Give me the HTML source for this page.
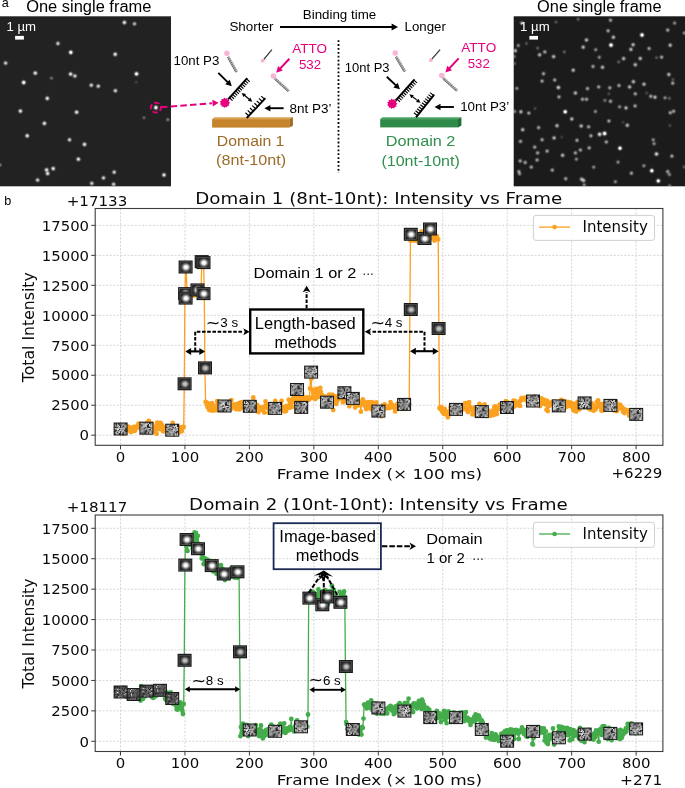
<!DOCTYPE html>
<html lang="en"><head><meta charset="utf-8"><title>Figure</title>
<style>html,body{margin:0;padding:0;background:#fff}svg{display:block}.dj{font-family:"DejaVu Sans","Liberation Sans",sans-serif;fill:#0a0a0a}.lb{font-family:"Liberation Sans",Arial,sans-serif;fill:#000}</style></head><body>
<svg width="685" height="788" viewBox="0 0 685 788">
<defs>
<radialGradient id="gd"><stop offset="0" stop-color="#fff" stop-opacity="1"/><stop offset="0.22" stop-color="#fff" stop-opacity="0.92"/><stop offset="0.48" stop-color="#fff" stop-opacity="0.45"/><stop offset="0.75" stop-color="#fff" stop-opacity="0.11"/><stop offset="1" stop-color="#fff" stop-opacity="0"/></radialGradient>
<radialGradient id="gs"><stop offset="0" stop-color="#fff" stop-opacity="1"/><stop offset="0.32" stop-color="#fff" stop-opacity="0.95"/><stop offset="0.65" stop-color="#bbb" stop-opacity="0.55"/><stop offset="1" stop-color="#888" stop-opacity="0"/></radialGradient>
<g id="n1"><rect x="-7.0" y="-6.5" width="14.0" height="13.0" fill="#1c1c1c"/><rect x="-5.90" y="-5.40" width="1.11" height="1.12" fill="#969696"/><rect x="-5.90" y="-4.32" width="1.11" height="1.12" fill="#eaeaea"/><rect x="-5.90" y="-3.24" width="1.11" height="1.12" fill="#b0b0b0"/><rect x="-5.90" y="-2.16" width="1.11" height="1.12" fill="#1a1a1a"/><rect x="-5.90" y="-1.08" width="1.11" height="1.12" fill="#f5f5f5"/><rect x="-5.90" y="0.00" width="1.11" height="1.12" fill="#7b7b7b"/><rect x="-5.90" y="1.08" width="1.11" height="1.12" fill="#515151"/><rect x="-5.90" y="2.16" width="1.11" height="1.12" fill="#1a1a1a"/><rect x="-5.90" y="3.24" width="1.11" height="1.12" fill="#b5b5b5"/><rect x="-5.90" y="4.32" width="1.11" height="1.12" fill="#323232"/><rect x="-4.83" y="-5.40" width="1.11" height="1.12" fill="#333333"/><rect x="-4.83" y="-4.32" width="1.11" height="1.12" fill="#262626"/><rect x="-4.83" y="-3.24" width="1.11" height="1.12" fill="#9f9f9f"/><rect x="-4.83" y="-2.16" width="1.11" height="1.12" fill="#4b4b4b"/><rect x="-4.83" y="-1.08" width="1.11" height="1.12" fill="#b6b6b6"/><rect x="-4.83" y="0.00" width="1.11" height="1.12" fill="#9c9c9c"/><rect x="-4.83" y="1.08" width="1.11" height="1.12" fill="#2c2c2c"/><rect x="-4.83" y="2.16" width="1.11" height="1.12" fill="#bfbfbf"/><rect x="-4.83" y="3.24" width="1.11" height="1.12" fill="#f8f8f8"/><rect x="-4.83" y="4.32" width="1.11" height="1.12" fill="#eeeeee"/><rect x="-3.75" y="-5.40" width="1.11" height="1.12" fill="#cbcbcb"/><rect x="-3.75" y="-4.32" width="1.11" height="1.12" fill="#b3b3b3"/><rect x="-3.75" y="-3.24" width="1.11" height="1.12" fill="#f6f6f6"/><rect x="-3.75" y="-2.16" width="1.11" height="1.12" fill="#393939"/><rect x="-3.75" y="-1.08" width="1.11" height="1.12" fill="#bebebe"/><rect x="-3.75" y="0.00" width="1.11" height="1.12" fill="#ebebeb"/><rect x="-3.75" y="1.08" width="1.11" height="1.12" fill="#c3c3c3"/><rect x="-3.75" y="2.16" width="1.11" height="1.12" fill="#acacac"/><rect x="-3.75" y="3.24" width="1.11" height="1.12" fill="#434343"/><rect x="-3.75" y="4.32" width="1.11" height="1.12" fill="#d8d8d8"/><rect x="-2.68" y="-5.40" width="1.11" height="1.12" fill="#373737"/><rect x="-2.68" y="-4.32" width="1.11" height="1.12" fill="#d8d8d8"/><rect x="-2.68" y="-3.24" width="1.11" height="1.12" fill="#b5b5b5"/><rect x="-2.68" y="-2.16" width="1.11" height="1.12" fill="#a0a0a0"/><rect x="-2.68" y="-1.08" width="1.11" height="1.12" fill="#d3d3d3"/><rect x="-2.68" y="0.00" width="1.11" height="1.12" fill="#ececec"/><rect x="-2.68" y="1.08" width="1.11" height="1.12" fill="#484848"/><rect x="-2.68" y="2.16" width="1.11" height="1.12" fill="#c6c6c6"/><rect x="-2.68" y="3.24" width="1.11" height="1.12" fill="#c1c1c1"/><rect x="-2.68" y="4.32" width="1.11" height="1.12" fill="#b4b4b4"/><rect x="-1.61" y="-5.40" width="1.11" height="1.12" fill="#4d4d4d"/><rect x="-1.61" y="-4.32" width="1.11" height="1.12" fill="#373737"/><rect x="-1.61" y="-3.24" width="1.11" height="1.12" fill="#e4e4e4"/><rect x="-1.61" y="-2.16" width="1.11" height="1.12" fill="#b5b5b5"/><rect x="-1.61" y="-1.08" width="1.11" height="1.12" fill="#b9b9b9"/><rect x="-1.61" y="0.00" width="1.11" height="1.12" fill="#232323"/><rect x="-1.61" y="1.08" width="1.11" height="1.12" fill="#b8b8b8"/><rect x="-1.61" y="2.16" width="1.11" height="1.12" fill="#c4c4c4"/><rect x="-1.61" y="3.24" width="1.11" height="1.12" fill="#f8f8f8"/><rect x="-1.61" y="4.32" width="1.11" height="1.12" fill="#1a1a1a"/><rect x="-0.54" y="-5.40" width="1.11" height="1.12" fill="#828282"/><rect x="-0.54" y="-4.32" width="1.11" height="1.12" fill="#3e3e3e"/><rect x="-0.54" y="-3.24" width="1.11" height="1.12" fill="#222222"/><rect x="-0.54" y="-2.16" width="1.11" height="1.12" fill="#292929"/><rect x="-0.54" y="-1.08" width="1.11" height="1.12" fill="#bfbfbf"/><rect x="-0.54" y="0.00" width="1.11" height="1.12" fill="#a7a7a7"/><rect x="-0.54" y="1.08" width="1.11" height="1.12" fill="#e7e7e7"/><rect x="-0.54" y="2.16" width="1.11" height="1.12" fill="#4e4e4e"/><rect x="-0.54" y="3.24" width="1.11" height="1.12" fill="#3d3d3d"/><rect x="-0.54" y="4.32" width="1.11" height="1.12" fill="#1a1a1a"/><rect x="0.54" y="-5.40" width="1.11" height="1.12" fill="#989898"/><rect x="0.54" y="-4.32" width="1.11" height="1.12" fill="#999999"/><rect x="0.54" y="-3.24" width="1.11" height="1.12" fill="#bdbdbd"/><rect x="0.54" y="-2.16" width="1.11" height="1.12" fill="#9f9f9f"/><rect x="0.54" y="-1.08" width="1.11" height="1.12" fill="#c4c4c4"/><rect x="0.54" y="0.00" width="1.11" height="1.12" fill="#9f9f9f"/><rect x="0.54" y="1.08" width="1.11" height="1.12" fill="#acacac"/><rect x="0.54" y="2.16" width="1.11" height="1.12" fill="#a7a7a7"/><rect x="0.54" y="3.24" width="1.11" height="1.12" fill="#fdfdfd"/><rect x="0.54" y="4.32" width="1.11" height="1.12" fill="#f9f9f9"/><rect x="1.61" y="-5.40" width="1.11" height="1.12" fill="#a6a6a6"/><rect x="1.61" y="-4.32" width="1.11" height="1.12" fill="#e1e1e1"/><rect x="1.61" y="-3.24" width="1.11" height="1.12" fill="#7f7f7f"/><rect x="1.61" y="-2.16" width="1.11" height="1.12" fill="#888888"/><rect x="1.61" y="-1.08" width="1.11" height="1.12" fill="#d4d4d4"/><rect x="1.61" y="0.00" width="1.11" height="1.12" fill="#9a9a9a"/><rect x="1.61" y="1.08" width="1.11" height="1.12" fill="#d6d6d6"/><rect x="1.61" y="2.16" width="1.11" height="1.12" fill="#e4e4e4"/><rect x="1.61" y="3.24" width="1.11" height="1.12" fill="#9e9e9e"/><rect x="1.61" y="4.32" width="1.11" height="1.12" fill="#1f1f1f"/><rect x="2.68" y="-5.40" width="1.11" height="1.12" fill="#eaeaea"/><rect x="2.68" y="-4.32" width="1.11" height="1.12" fill="#a8a8a8"/><rect x="2.68" y="-3.24" width="1.11" height="1.12" fill="#252525"/><rect x="2.68" y="-2.16" width="1.11" height="1.12" fill="#a8a8a8"/><rect x="2.68" y="-1.08" width="1.11" height="1.12" fill="#dfdfdf"/><rect x="2.68" y="0.00" width="1.11" height="1.12" fill="#bdbdbd"/><rect x="2.68" y="1.08" width="1.11" height="1.12" fill="#fafafa"/><rect x="2.68" y="2.16" width="1.11" height="1.12" fill="#bdbdbd"/><rect x="2.68" y="3.24" width="1.11" height="1.12" fill="#444444"/><rect x="2.68" y="4.32" width="1.11" height="1.12" fill="#4f4f4f"/><rect x="3.75" y="-5.40" width="1.11" height="1.12" fill="#9e9e9e"/><rect x="3.75" y="-4.32" width="1.11" height="1.12" fill="#b9b9b9"/><rect x="3.75" y="-3.24" width="1.11" height="1.12" fill="#e2e2e2"/><rect x="3.75" y="-2.16" width="1.11" height="1.12" fill="#cacaca"/><rect x="3.75" y="-1.08" width="1.11" height="1.12" fill="#d3d3d3"/><rect x="3.75" y="0.00" width="1.11" height="1.12" fill="#969696"/><rect x="3.75" y="1.08" width="1.11" height="1.12" fill="#1d1d1d"/><rect x="3.75" y="2.16" width="1.11" height="1.12" fill="#cacaca"/><rect x="3.75" y="3.24" width="1.11" height="1.12" fill="#efefef"/><rect x="3.75" y="4.32" width="1.11" height="1.12" fill="#ededed"/><rect x="4.83" y="-5.40" width="1.11" height="1.12" fill="#292929"/><rect x="4.83" y="-4.32" width="1.11" height="1.12" fill="#cccccc"/><rect x="4.83" y="-3.24" width="1.11" height="1.12" fill="#cfcfcf"/><rect x="4.83" y="-2.16" width="1.11" height="1.12" fill="#a4a4a4"/><rect x="4.83" y="-1.08" width="1.11" height="1.12" fill="#414141"/><rect x="4.83" y="0.00" width="1.11" height="1.12" fill="#4e4e4e"/><rect x="4.83" y="1.08" width="1.11" height="1.12" fill="#545454"/><rect x="4.83" y="2.16" width="1.11" height="1.12" fill="#232323"/><rect x="4.83" y="3.24" width="1.11" height="1.12" fill="#a1a1a1"/><rect x="4.83" y="4.32" width="1.11" height="1.12" fill="#929292"/></g>
<g id="n2"><rect x="-7.0" y="-6.5" width="14.0" height="13.0" fill="#1c1c1c"/><rect x="-5.90" y="-5.40" width="1.11" height="1.12" fill="#d3d3d3"/><rect x="-5.90" y="-4.32" width="1.11" height="1.12" fill="#4b4b4b"/><rect x="-5.90" y="-3.24" width="1.11" height="1.12" fill="#c0c0c0"/><rect x="-5.90" y="-2.16" width="1.11" height="1.12" fill="#a6a6a6"/><rect x="-5.90" y="-1.08" width="1.11" height="1.12" fill="#b9b9b9"/><rect x="-5.90" y="0.00" width="1.11" height="1.12" fill="#e6e6e6"/><rect x="-5.90" y="1.08" width="1.11" height="1.12" fill="#bfbfbf"/><rect x="-5.90" y="2.16" width="1.11" height="1.12" fill="#d2d2d2"/><rect x="-5.90" y="3.24" width="1.11" height="1.12" fill="#d8d8d8"/><rect x="-5.90" y="4.32" width="1.11" height="1.12" fill="#858585"/><rect x="-4.83" y="-5.40" width="1.11" height="1.12" fill="#fafafa"/><rect x="-4.83" y="-4.32" width="1.11" height="1.12" fill="#b5b5b5"/><rect x="-4.83" y="-3.24" width="1.11" height="1.12" fill="#2c2c2c"/><rect x="-4.83" y="-2.16" width="1.11" height="1.12" fill="#979797"/><rect x="-4.83" y="-1.08" width="1.11" height="1.12" fill="#dedede"/><rect x="-4.83" y="0.00" width="1.11" height="1.12" fill="#9b9b9b"/><rect x="-4.83" y="1.08" width="1.11" height="1.12" fill="#c4c4c4"/><rect x="-4.83" y="2.16" width="1.11" height="1.12" fill="#cdcdcd"/><rect x="-4.83" y="3.24" width="1.11" height="1.12" fill="#fefefe"/><rect x="-4.83" y="4.32" width="1.11" height="1.12" fill="#464646"/><rect x="-3.75" y="-5.40" width="1.11" height="1.12" fill="#bfbfbf"/><rect x="-3.75" y="-4.32" width="1.11" height="1.12" fill="#b5b5b5"/><rect x="-3.75" y="-3.24" width="1.11" height="1.12" fill="#cfcfcf"/><rect x="-3.75" y="-2.16" width="1.11" height="1.12" fill="#fafafa"/><rect x="-3.75" y="-1.08" width="1.11" height="1.12" fill="#cdcdcd"/><rect x="-3.75" y="0.00" width="1.11" height="1.12" fill="#b7b7b7"/><rect x="-3.75" y="1.08" width="1.11" height="1.12" fill="#c0c0c0"/><rect x="-3.75" y="2.16" width="1.11" height="1.12" fill="#f2f2f2"/><rect x="-3.75" y="3.24" width="1.11" height="1.12" fill="#9a9a9a"/><rect x="-3.75" y="4.32" width="1.11" height="1.12" fill="#a3a3a3"/><rect x="-2.68" y="-5.40" width="1.11" height="1.12" fill="#a6a6a6"/><rect x="-2.68" y="-4.32" width="1.11" height="1.12" fill="#bebebe"/><rect x="-2.68" y="-3.24" width="1.11" height="1.12" fill="#b4b4b4"/><rect x="-2.68" y="-2.16" width="1.11" height="1.12" fill="#dfdfdf"/><rect x="-2.68" y="-1.08" width="1.11" height="1.12" fill="#b4b4b4"/><rect x="-2.68" y="0.00" width="1.11" height="1.12" fill="#4a4a4a"/><rect x="-2.68" y="1.08" width="1.11" height="1.12" fill="#c0c0c0"/><rect x="-2.68" y="2.16" width="1.11" height="1.12" fill="#9c9c9c"/><rect x="-2.68" y="3.24" width="1.11" height="1.12" fill="#8c8c8c"/><rect x="-2.68" y="4.32" width="1.11" height="1.12" fill="#4d4d4d"/><rect x="-1.61" y="-5.40" width="1.11" height="1.12" fill="#939393"/><rect x="-1.61" y="-4.32" width="1.11" height="1.12" fill="#dfdfdf"/><rect x="-1.61" y="-3.24" width="1.11" height="1.12" fill="#f3f3f3"/><rect x="-1.61" y="-2.16" width="1.11" height="1.12" fill="#dddddd"/><rect x="-1.61" y="-1.08" width="1.11" height="1.12" fill="#525252"/><rect x="-1.61" y="0.00" width="1.11" height="1.12" fill="#858585"/><rect x="-1.61" y="1.08" width="1.11" height="1.12" fill="#f7f7f7"/><rect x="-1.61" y="2.16" width="1.11" height="1.12" fill="#424242"/><rect x="-1.61" y="3.24" width="1.11" height="1.12" fill="#545454"/><rect x="-1.61" y="4.32" width="1.11" height="1.12" fill="#2d2d2d"/><rect x="-0.54" y="-5.40" width="1.11" height="1.12" fill="#bababa"/><rect x="-0.54" y="-4.32" width="1.11" height="1.12" fill="#d8d8d8"/><rect x="-0.54" y="-3.24" width="1.11" height="1.12" fill="#b0b0b0"/><rect x="-0.54" y="-2.16" width="1.11" height="1.12" fill="#c1c1c1"/><rect x="-0.54" y="-1.08" width="1.11" height="1.12" fill="#c1c1c1"/><rect x="-0.54" y="0.00" width="1.11" height="1.12" fill="#bebebe"/><rect x="-0.54" y="1.08" width="1.11" height="1.12" fill="#9f9f9f"/><rect x="-0.54" y="2.16" width="1.11" height="1.12" fill="#333333"/><rect x="-0.54" y="3.24" width="1.11" height="1.12" fill="#3c3c3c"/><rect x="-0.54" y="4.32" width="1.11" height="1.12" fill="#acacac"/><rect x="0.54" y="-5.40" width="1.11" height="1.12" fill="#979797"/><rect x="0.54" y="-4.32" width="1.11" height="1.12" fill="#a2a2a2"/><rect x="0.54" y="-3.24" width="1.11" height="1.12" fill="#3a3a3a"/><rect x="0.54" y="-2.16" width="1.11" height="1.12" fill="#1b1b1b"/><rect x="0.54" y="-1.08" width="1.11" height="1.12" fill="#3f3f3f"/><rect x="0.54" y="0.00" width="1.11" height="1.12" fill="#b4b4b4"/><rect x="0.54" y="1.08" width="1.11" height="1.12" fill="#d0d0d0"/><rect x="0.54" y="2.16" width="1.11" height="1.12" fill="#a0a0a0"/><rect x="0.54" y="3.24" width="1.11" height="1.12" fill="#a2a2a2"/><rect x="0.54" y="4.32" width="1.11" height="1.12" fill="#bababa"/><rect x="1.61" y="-5.40" width="1.11" height="1.12" fill="#e7e7e7"/><rect x="1.61" y="-4.32" width="1.11" height="1.12" fill="#1b1b1b"/><rect x="1.61" y="-3.24" width="1.11" height="1.12" fill="#444444"/><rect x="1.61" y="-2.16" width="1.11" height="1.12" fill="#232323"/><rect x="1.61" y="-1.08" width="1.11" height="1.12" fill="#383838"/><rect x="1.61" y="0.00" width="1.11" height="1.12" fill="#f0f0f0"/><rect x="1.61" y="1.08" width="1.11" height="1.12" fill="#9e9e9e"/><rect x="1.61" y="2.16" width="1.11" height="1.12" fill="#d4d4d4"/><rect x="1.61" y="3.24" width="1.11" height="1.12" fill="#afafaf"/><rect x="1.61" y="4.32" width="1.11" height="1.12" fill="#323232"/><rect x="2.68" y="-5.40" width="1.11" height="1.12" fill="#1e1e1e"/><rect x="2.68" y="-4.32" width="1.11" height="1.12" fill="#ebebeb"/><rect x="2.68" y="-3.24" width="1.11" height="1.12" fill="#cfcfcf"/><rect x="2.68" y="-2.16" width="1.11" height="1.12" fill="#a5a5a5"/><rect x="2.68" y="-1.08" width="1.11" height="1.12" fill="#424242"/><rect x="2.68" y="0.00" width="1.11" height="1.12" fill="#f8f8f8"/><rect x="2.68" y="1.08" width="1.11" height="1.12" fill="#343434"/><rect x="2.68" y="2.16" width="1.11" height="1.12" fill="#adadad"/><rect x="2.68" y="3.24" width="1.11" height="1.12" fill="#9e9e9e"/><rect x="2.68" y="4.32" width="1.11" height="1.12" fill="#e5e5e5"/><rect x="3.75" y="-5.40" width="1.11" height="1.12" fill="#464646"/><rect x="3.75" y="-4.32" width="1.11" height="1.12" fill="#9c9c9c"/><rect x="3.75" y="-3.24" width="1.11" height="1.12" fill="#acacac"/><rect x="3.75" y="-2.16" width="1.11" height="1.12" fill="#dbdbdb"/><rect x="3.75" y="-1.08" width="1.11" height="1.12" fill="#4c4c4c"/><rect x="3.75" y="0.00" width="1.11" height="1.12" fill="#bbbbbb"/><rect x="3.75" y="1.08" width="1.11" height="1.12" fill="#404040"/><rect x="3.75" y="2.16" width="1.11" height="1.12" fill="#c3c3c3"/><rect x="3.75" y="3.24" width="1.11" height="1.12" fill="#e9e9e9"/><rect x="3.75" y="4.32" width="1.11" height="1.12" fill="#ececec"/><rect x="4.83" y="-5.40" width="1.11" height="1.12" fill="#b2b2b2"/><rect x="4.83" y="-4.32" width="1.11" height="1.12" fill="#c5c5c5"/><rect x="4.83" y="-3.24" width="1.11" height="1.12" fill="#e0e0e0"/><rect x="4.83" y="-2.16" width="1.11" height="1.12" fill="#e8e8e8"/><rect x="4.83" y="-1.08" width="1.11" height="1.12" fill="#bdbdbd"/><rect x="4.83" y="0.00" width="1.11" height="1.12" fill="#b8b8b8"/><rect x="4.83" y="1.08" width="1.11" height="1.12" fill="#fefefe"/><rect x="4.83" y="2.16" width="1.11" height="1.12" fill="#d9d9d9"/><rect x="4.83" y="3.24" width="1.11" height="1.12" fill="#909090"/><rect x="4.83" y="4.32" width="1.11" height="1.12" fill="#dadada"/></g>
<g id="n3"><rect x="-7.0" y="-6.5" width="14.0" height="13.0" fill="#1c1c1c"/><rect x="-5.90" y="-5.40" width="1.11" height="1.12" fill="#a1a1a1"/><rect x="-5.90" y="-4.32" width="1.11" height="1.12" fill="#ababab"/><rect x="-5.90" y="-3.24" width="1.11" height="1.12" fill="#191919"/><rect x="-5.90" y="-2.16" width="1.11" height="1.12" fill="#e0e0e0"/><rect x="-5.90" y="-1.08" width="1.11" height="1.12" fill="#dcdcdc"/><rect x="-5.90" y="0.00" width="1.11" height="1.12" fill="#c7c7c7"/><rect x="-5.90" y="1.08" width="1.11" height="1.12" fill="#3f3f3f"/><rect x="-5.90" y="2.16" width="1.11" height="1.12" fill="#cacaca"/><rect x="-5.90" y="3.24" width="1.11" height="1.12" fill="#c1c1c1"/><rect x="-5.90" y="4.32" width="1.11" height="1.12" fill="#8d8d8d"/><rect x="-4.83" y="-5.40" width="1.11" height="1.12" fill="#d8d8d8"/><rect x="-4.83" y="-4.32" width="1.11" height="1.12" fill="#c9c9c9"/><rect x="-4.83" y="-3.24" width="1.11" height="1.12" fill="#bfbfbf"/><rect x="-4.83" y="-2.16" width="1.11" height="1.12" fill="#bfbfbf"/><rect x="-4.83" y="-1.08" width="1.11" height="1.12" fill="#acacac"/><rect x="-4.83" y="0.00" width="1.11" height="1.12" fill="#b0b0b0"/><rect x="-4.83" y="1.08" width="1.11" height="1.12" fill="#212121"/><rect x="-4.83" y="2.16" width="1.11" height="1.12" fill="#9f9f9f"/><rect x="-4.83" y="3.24" width="1.11" height="1.12" fill="#afafaf"/><rect x="-4.83" y="4.32" width="1.11" height="1.12" fill="#a6a6a6"/><rect x="-3.75" y="-5.40" width="1.11" height="1.12" fill="#eeeeee"/><rect x="-3.75" y="-4.32" width="1.11" height="1.12" fill="#b8b8b8"/><rect x="-3.75" y="-3.24" width="1.11" height="1.12" fill="#bdbdbd"/><rect x="-3.75" y="-2.16" width="1.11" height="1.12" fill="#c9c9c9"/><rect x="-3.75" y="-1.08" width="1.11" height="1.12" fill="#4c4c4c"/><rect x="-3.75" y="0.00" width="1.11" height="1.12" fill="#d5d5d5"/><rect x="-3.75" y="1.08" width="1.11" height="1.12" fill="#b7b7b7"/><rect x="-3.75" y="2.16" width="1.11" height="1.12" fill="#9e9e9e"/><rect x="-3.75" y="3.24" width="1.11" height="1.12" fill="#d9d9d9"/><rect x="-3.75" y="4.32" width="1.11" height="1.12" fill="#c9c9c9"/><rect x="-2.68" y="-5.40" width="1.11" height="1.12" fill="#919191"/><rect x="-2.68" y="-4.32" width="1.11" height="1.12" fill="#2a2a2a"/><rect x="-2.68" y="-3.24" width="1.11" height="1.12" fill="#c2c2c2"/><rect x="-2.68" y="-2.16" width="1.11" height="1.12" fill="#898989"/><rect x="-2.68" y="-1.08" width="1.11" height="1.12" fill="#898989"/><rect x="-2.68" y="0.00" width="1.11" height="1.12" fill="#a8a8a8"/><rect x="-2.68" y="1.08" width="1.11" height="1.12" fill="#d8d8d8"/><rect x="-2.68" y="2.16" width="1.11" height="1.12" fill="#dadada"/><rect x="-2.68" y="3.24" width="1.11" height="1.12" fill="#242424"/><rect x="-2.68" y="4.32" width="1.11" height="1.12" fill="#adadad"/><rect x="-1.61" y="-5.40" width="1.11" height="1.12" fill="#4d4d4d"/><rect x="-1.61" y="-4.32" width="1.11" height="1.12" fill="#a7a7a7"/><rect x="-1.61" y="-3.24" width="1.11" height="1.12" fill="#e9e9e9"/><rect x="-1.61" y="-2.16" width="1.11" height="1.12" fill="#b4b4b4"/><rect x="-1.61" y="-1.08" width="1.11" height="1.12" fill="#b8b8b8"/><rect x="-1.61" y="0.00" width="1.11" height="1.12" fill="#bababa"/><rect x="-1.61" y="1.08" width="1.11" height="1.12" fill="#f3f3f3"/><rect x="-1.61" y="2.16" width="1.11" height="1.12" fill="#fefefe"/><rect x="-1.61" y="3.24" width="1.11" height="1.12" fill="#b4b4b4"/><rect x="-1.61" y="4.32" width="1.11" height="1.12" fill="#eeeeee"/><rect x="-0.54" y="-5.40" width="1.11" height="1.12" fill="#838383"/><rect x="-0.54" y="-4.32" width="1.11" height="1.12" fill="#3e3e3e"/><rect x="-0.54" y="-3.24" width="1.11" height="1.12" fill="#b1b1b1"/><rect x="-0.54" y="-2.16" width="1.11" height="1.12" fill="#a9a9a9"/><rect x="-0.54" y="-1.08" width="1.11" height="1.12" fill="#1c1c1c"/><rect x="-0.54" y="0.00" width="1.11" height="1.12" fill="#bdbdbd"/><rect x="-0.54" y="1.08" width="1.11" height="1.12" fill="#a2a2a2"/><rect x="-0.54" y="2.16" width="1.11" height="1.12" fill="#e5e5e5"/><rect x="-0.54" y="3.24" width="1.11" height="1.12" fill="#eeeeee"/><rect x="-0.54" y="4.32" width="1.11" height="1.12" fill="#f5f5f5"/><rect x="0.54" y="-5.40" width="1.11" height="1.12" fill="#858585"/><rect x="0.54" y="-4.32" width="1.11" height="1.12" fill="#dfdfdf"/><rect x="0.54" y="-3.24" width="1.11" height="1.12" fill="#242424"/><rect x="0.54" y="-2.16" width="1.11" height="1.12" fill="#afafaf"/><rect x="0.54" y="-1.08" width="1.11" height="1.12" fill="#e4e4e4"/><rect x="0.54" y="0.00" width="1.11" height="1.12" fill="#f9f9f9"/><rect x="0.54" y="1.08" width="1.11" height="1.12" fill="#f1f1f1"/><rect x="0.54" y="2.16" width="1.11" height="1.12" fill="#cbcbcb"/><rect x="0.54" y="3.24" width="1.11" height="1.12" fill="#383838"/><rect x="0.54" y="4.32" width="1.11" height="1.12" fill="#9c9c9c"/><rect x="1.61" y="-5.40" width="1.11" height="1.12" fill="#292929"/><rect x="1.61" y="-4.32" width="1.11" height="1.12" fill="#c5c5c5"/><rect x="1.61" y="-3.24" width="1.11" height="1.12" fill="#dcdcdc"/><rect x="1.61" y="-2.16" width="1.11" height="1.12" fill="#a5a5a5"/><rect x="1.61" y="-1.08" width="1.11" height="1.12" fill="#e7e7e7"/><rect x="1.61" y="0.00" width="1.11" height="1.12" fill="#fbfbfb"/><rect x="1.61" y="1.08" width="1.11" height="1.12" fill="#515151"/><rect x="1.61" y="2.16" width="1.11" height="1.12" fill="#cbcbcb"/><rect x="1.61" y="3.24" width="1.11" height="1.12" fill="#afafaf"/><rect x="1.61" y="4.32" width="1.11" height="1.12" fill="#454545"/><rect x="2.68" y="-5.40" width="1.11" height="1.12" fill="#c7c7c7"/><rect x="2.68" y="-4.32" width="1.11" height="1.12" fill="#e4e4e4"/><rect x="2.68" y="-3.24" width="1.11" height="1.12" fill="#3c3c3c"/><rect x="2.68" y="-2.16" width="1.11" height="1.12" fill="#a5a5a5"/><rect x="2.68" y="-1.08" width="1.11" height="1.12" fill="#898989"/><rect x="2.68" y="0.00" width="1.11" height="1.12" fill="#bebebe"/><rect x="2.68" y="1.08" width="1.11" height="1.12" fill="#cccccc"/><rect x="2.68" y="2.16" width="1.11" height="1.12" fill="#454545"/><rect x="2.68" y="3.24" width="1.11" height="1.12" fill="#f1f1f1"/><rect x="2.68" y="4.32" width="1.11" height="1.12" fill="#fcfcfc"/><rect x="3.75" y="-5.40" width="1.11" height="1.12" fill="#e1e1e1"/><rect x="3.75" y="-4.32" width="1.11" height="1.12" fill="#c9c9c9"/><rect x="3.75" y="-3.24" width="1.11" height="1.12" fill="#dedede"/><rect x="3.75" y="-2.16" width="1.11" height="1.12" fill="#b5b5b5"/><rect x="3.75" y="-1.08" width="1.11" height="1.12" fill="#9a9a9a"/><rect x="3.75" y="0.00" width="1.11" height="1.12" fill="#cfcfcf"/><rect x="3.75" y="1.08" width="1.11" height="1.12" fill="#3e3e3e"/><rect x="3.75" y="2.16" width="1.11" height="1.12" fill="#292929"/><rect x="3.75" y="3.24" width="1.11" height="1.12" fill="#a3a3a3"/><rect x="3.75" y="4.32" width="1.11" height="1.12" fill="#aeaeae"/><rect x="4.83" y="-5.40" width="1.11" height="1.12" fill="#1c1c1c"/><rect x="4.83" y="-4.32" width="1.11" height="1.12" fill="#1d1d1d"/><rect x="4.83" y="-3.24" width="1.11" height="1.12" fill="#d7d7d7"/><rect x="4.83" y="-2.16" width="1.11" height="1.12" fill="#909090"/><rect x="4.83" y="-1.08" width="1.11" height="1.12" fill="#e5e5e5"/><rect x="4.83" y="0.00" width="1.11" height="1.12" fill="#bbbbbb"/><rect x="4.83" y="1.08" width="1.11" height="1.12" fill="#2c2c2c"/><rect x="4.83" y="2.16" width="1.11" height="1.12" fill="#959595"/><rect x="4.83" y="3.24" width="1.11" height="1.12" fill="#dadada"/><rect x="4.83" y="4.32" width="1.11" height="1.12" fill="#efefef"/></g>
<g id="d1"><rect x="-7.0" y="-6.5" width="14.0" height="13.0" fill="#1c1c1c"/><rect x="-5.90" y="-5.40" width="1.11" height="1.12" fill="#303030"/><rect x="-5.90" y="-4.32" width="1.11" height="1.12" fill="#313131"/><rect x="-5.90" y="-3.24" width="1.11" height="1.12" fill="#878787"/><rect x="-5.90" y="-2.16" width="1.11" height="1.12" fill="#393939"/><rect x="-5.90" y="-1.08" width="1.11" height="1.12" fill="#1f1f1f"/><rect x="-5.90" y="0.00" width="1.11" height="1.12" fill="#5e5e5e"/><rect x="-5.90" y="1.08" width="1.11" height="1.12" fill="#808080"/><rect x="-5.90" y="2.16" width="1.11" height="1.12" fill="#2b2b2b"/><rect x="-5.90" y="3.24" width="1.11" height="1.12" fill="#767676"/><rect x="-5.90" y="4.32" width="1.11" height="1.12" fill="#828282"/><rect x="-4.83" y="-5.40" width="1.11" height="1.12" fill="#515151"/><rect x="-4.83" y="-4.32" width="1.11" height="1.12" fill="#787878"/><rect x="-4.83" y="-3.24" width="1.11" height="1.12" fill="#5a5a5a"/><rect x="-4.83" y="-2.16" width="1.11" height="1.12" fill="#515151"/><rect x="-4.83" y="-1.08" width="1.11" height="1.12" fill="#828282"/><rect x="-4.83" y="0.00" width="1.11" height="1.12" fill="#646464"/><rect x="-4.83" y="1.08" width="1.11" height="1.12" fill="#737373"/><rect x="-4.83" y="2.16" width="1.11" height="1.12" fill="#818181"/><rect x="-4.83" y="3.24" width="1.11" height="1.12" fill="#6b6b6b"/><rect x="-4.83" y="4.32" width="1.11" height="1.12" fill="#2b2b2b"/><rect x="-3.75" y="-5.40" width="1.11" height="1.12" fill="#1b1b1b"/><rect x="-3.75" y="-4.32" width="1.11" height="1.12" fill="#393939"/><rect x="-3.75" y="-3.24" width="1.11" height="1.12" fill="#fefefe"/><rect x="-3.75" y="-2.16" width="1.11" height="1.12" fill="#5c5c5c"/><rect x="-3.75" y="-1.08" width="1.11" height="1.12" fill="#5d5d5d"/><rect x="-3.75" y="0.00" width="1.11" height="1.12" fill="#f4f4f4"/><rect x="-3.75" y="1.08" width="1.11" height="1.12" fill="#656565"/><rect x="-3.75" y="2.16" width="1.11" height="1.12" fill="#1c1c1c"/><rect x="-3.75" y="3.24" width="1.11" height="1.12" fill="#5f5f5f"/><rect x="-3.75" y="4.32" width="1.11" height="1.12" fill="#2c2c2c"/><rect x="-2.68" y="-5.40" width="1.11" height="1.12" fill="#5a5a5a"/><rect x="-2.68" y="-4.32" width="1.11" height="1.12" fill="#4b4b4b"/><rect x="-2.68" y="-3.24" width="1.11" height="1.12" fill="#858585"/><rect x="-2.68" y="-2.16" width="1.11" height="1.12" fill="#7b7b7b"/><rect x="-2.68" y="-1.08" width="1.11" height="1.12" fill="#525252"/><rect x="-2.68" y="0.00" width="1.11" height="1.12" fill="#7d7d7d"/><rect x="-2.68" y="1.08" width="1.11" height="1.12" fill="#898989"/><rect x="-2.68" y="2.16" width="1.11" height="1.12" fill="#242424"/><rect x="-2.68" y="3.24" width="1.11" height="1.12" fill="#2f2f2f"/><rect x="-2.68" y="4.32" width="1.11" height="1.12" fill="#d7d7d7"/><rect x="-1.61" y="-5.40" width="1.11" height="1.12" fill="#484848"/><rect x="-1.61" y="-4.32" width="1.11" height="1.12" fill="#1e1e1e"/><rect x="-1.61" y="-3.24" width="1.11" height="1.12" fill="#8e8e8e"/><rect x="-1.61" y="-2.16" width="1.11" height="1.12" fill="#1c1c1c"/><rect x="-1.61" y="-1.08" width="1.11" height="1.12" fill="#5a5a5a"/><rect x="-1.61" y="0.00" width="1.11" height="1.12" fill="#363636"/><rect x="-1.61" y="1.08" width="1.11" height="1.12" fill="#606060"/><rect x="-1.61" y="2.16" width="1.11" height="1.12" fill="#555555"/><rect x="-1.61" y="3.24" width="1.11" height="1.12" fill="#7d7d7d"/><rect x="-1.61" y="4.32" width="1.11" height="1.12" fill="#909090"/><rect x="-0.54" y="-5.40" width="1.11" height="1.12" fill="#606060"/><rect x="-0.54" y="-4.32" width="1.11" height="1.12" fill="#4a4a4a"/><rect x="-0.54" y="-3.24" width="1.11" height="1.12" fill="#606060"/><rect x="-0.54" y="-2.16" width="1.11" height="1.12" fill="#808080"/><rect x="-0.54" y="-1.08" width="1.11" height="1.12" fill="#272727"/><rect x="-0.54" y="0.00" width="1.11" height="1.12" fill="#4d4d4d"/><rect x="-0.54" y="1.08" width="1.11" height="1.12" fill="#505050"/><rect x="-0.54" y="2.16" width="1.11" height="1.12" fill="#737373"/><rect x="-0.54" y="3.24" width="1.11" height="1.12" fill="#6a6a6a"/><rect x="-0.54" y="4.32" width="1.11" height="1.12" fill="#777777"/><rect x="0.54" y="-5.40" width="1.11" height="1.12" fill="#7b7b7b"/><rect x="0.54" y="-4.32" width="1.11" height="1.12" fill="#4d4d4d"/><rect x="0.54" y="-3.24" width="1.11" height="1.12" fill="#858585"/><rect x="0.54" y="-2.16" width="1.11" height="1.12" fill="#666666"/><rect x="0.54" y="-1.08" width="1.11" height="1.12" fill="#7e7e7e"/><rect x="0.54" y="0.00" width="1.11" height="1.12" fill="#7f7f7f"/><rect x="0.54" y="1.08" width="1.11" height="1.12" fill="#777777"/><rect x="0.54" y="2.16" width="1.11" height="1.12" fill="#626262"/><rect x="0.54" y="3.24" width="1.11" height="1.12" fill="#535353"/><rect x="0.54" y="4.32" width="1.11" height="1.12" fill="#8b8b8b"/><rect x="1.61" y="-5.40" width="1.11" height="1.12" fill="#4b4b4b"/><rect x="1.61" y="-4.32" width="1.11" height="1.12" fill="#565656"/><rect x="1.61" y="-3.24" width="1.11" height="1.12" fill="#232323"/><rect x="1.61" y="-2.16" width="1.11" height="1.12" fill="#767676"/><rect x="1.61" y="-1.08" width="1.11" height="1.12" fill="#7b7b7b"/><rect x="1.61" y="0.00" width="1.11" height="1.12" fill="#505050"/><rect x="1.61" y="1.08" width="1.11" height="1.12" fill="#444444"/><rect x="1.61" y="2.16" width="1.11" height="1.12" fill="#555555"/><rect x="1.61" y="3.24" width="1.11" height="1.12" fill="#7d7d7d"/><rect x="1.61" y="4.32" width="1.11" height="1.12" fill="#727272"/><rect x="2.68" y="-5.40" width="1.11" height="1.12" fill="#5d5d5d"/><rect x="2.68" y="-4.32" width="1.11" height="1.12" fill="#666666"/><rect x="2.68" y="-3.24" width="1.11" height="1.12" fill="#7d7d7d"/><rect x="2.68" y="-2.16" width="1.11" height="1.12" fill="#1b1b1b"/><rect x="2.68" y="-1.08" width="1.11" height="1.12" fill="#747474"/><rect x="2.68" y="0.00" width="1.11" height="1.12" fill="#828282"/><rect x="2.68" y="1.08" width="1.11" height="1.12" fill="#575757"/><rect x="2.68" y="2.16" width="1.11" height="1.12" fill="#7c7c7c"/><rect x="2.68" y="3.24" width="1.11" height="1.12" fill="#434343"/><rect x="2.68" y="4.32" width="1.11" height="1.12" fill="#393939"/><rect x="3.75" y="-5.40" width="1.11" height="1.12" fill="#696969"/><rect x="3.75" y="-4.32" width="1.11" height="1.12" fill="#363636"/><rect x="3.75" y="-3.24" width="1.11" height="1.12" fill="#1f1f1f"/><rect x="3.75" y="-2.16" width="1.11" height="1.12" fill="#757575"/><rect x="3.75" y="-1.08" width="1.11" height="1.12" fill="#707070"/><rect x="3.75" y="0.00" width="1.11" height="1.12" fill="#828282"/><rect x="3.75" y="1.08" width="1.11" height="1.12" fill="#4f4f4f"/><rect x="3.75" y="2.16" width="1.11" height="1.12" fill="#f8f8f8"/><rect x="3.75" y="3.24" width="1.11" height="1.12" fill="#6b6b6b"/><rect x="3.75" y="4.32" width="1.11" height="1.12" fill="#5a5a5a"/><rect x="4.83" y="-5.40" width="1.11" height="1.12" fill="#363636"/><rect x="4.83" y="-4.32" width="1.11" height="1.12" fill="#666666"/><rect x="4.83" y="-3.24" width="1.11" height="1.12" fill="#858585"/><rect x="4.83" y="-2.16" width="1.11" height="1.12" fill="#ececec"/><rect x="4.83" y="-1.08" width="1.11" height="1.12" fill="#6f6f6f"/><rect x="4.83" y="0.00" width="1.11" height="1.12" fill="#272727"/><rect x="4.83" y="1.08" width="1.11" height="1.12" fill="#f5f5f5"/><rect x="4.83" y="2.16" width="1.11" height="1.12" fill="#8f8f8f"/><rect x="4.83" y="3.24" width="1.11" height="1.12" fill="#787878"/><rect x="4.83" y="4.32" width="1.11" height="1.12" fill="#656565"/></g>
<g id="d2"><rect x="-7.0" y="-6.5" width="14.0" height="13.0" fill="#1c1c1c"/><rect x="-5.90" y="-5.40" width="1.11" height="1.12" fill="#757575"/><rect x="-5.90" y="-4.32" width="1.11" height="1.12" fill="#7e7e7e"/><rect x="-5.90" y="-3.24" width="1.11" height="1.12" fill="#7b7b7b"/><rect x="-5.90" y="-2.16" width="1.11" height="1.12" fill="#484848"/><rect x="-5.90" y="-1.08" width="1.11" height="1.12" fill="#898989"/><rect x="-5.90" y="0.00" width="1.11" height="1.12" fill="#353535"/><rect x="-5.90" y="1.08" width="1.11" height="1.12" fill="#606060"/><rect x="-5.90" y="2.16" width="1.11" height="1.12" fill="#262626"/><rect x="-5.90" y="3.24" width="1.11" height="1.12" fill="#626262"/><rect x="-5.90" y="4.32" width="1.11" height="1.12" fill="#484848"/><rect x="-4.83" y="-5.40" width="1.11" height="1.12" fill="#575757"/><rect x="-4.83" y="-4.32" width="1.11" height="1.12" fill="#4d4d4d"/><rect x="-4.83" y="-3.24" width="1.11" height="1.12" fill="#535353"/><rect x="-4.83" y="-2.16" width="1.11" height="1.12" fill="#525252"/><rect x="-4.83" y="-1.08" width="1.11" height="1.12" fill="#717171"/><rect x="-4.83" y="0.00" width="1.11" height="1.12" fill="#5d5d5d"/><rect x="-4.83" y="1.08" width="1.11" height="1.12" fill="#797979"/><rect x="-4.83" y="2.16" width="1.11" height="1.12" fill="#2e2e2e"/><rect x="-4.83" y="3.24" width="1.11" height="1.12" fill="#1c1c1c"/><rect x="-4.83" y="4.32" width="1.11" height="1.12" fill="#646464"/><rect x="-3.75" y="-5.40" width="1.11" height="1.12" fill="#404040"/><rect x="-3.75" y="-4.32" width="1.11" height="1.12" fill="#f7f7f7"/><rect x="-3.75" y="-3.24" width="1.11" height="1.12" fill="#eaeaea"/><rect x="-3.75" y="-2.16" width="1.11" height="1.12" fill="#535353"/><rect x="-3.75" y="-1.08" width="1.11" height="1.12" fill="#474747"/><rect x="-3.75" y="0.00" width="1.11" height="1.12" fill="#484848"/><rect x="-3.75" y="1.08" width="1.11" height="1.12" fill="#686868"/><rect x="-3.75" y="2.16" width="1.11" height="1.12" fill="#232323"/><rect x="-3.75" y="3.24" width="1.11" height="1.12" fill="#464646"/><rect x="-3.75" y="4.32" width="1.11" height="1.12" fill="#888888"/><rect x="-2.68" y="-5.40" width="1.11" height="1.12" fill="#ebebeb"/><rect x="-2.68" y="-4.32" width="1.11" height="1.12" fill="#454545"/><rect x="-2.68" y="-3.24" width="1.11" height="1.12" fill="#7e7e7e"/><rect x="-2.68" y="-2.16" width="1.11" height="1.12" fill="#4a4a4a"/><rect x="-2.68" y="-1.08" width="1.11" height="1.12" fill="#efefef"/><rect x="-2.68" y="0.00" width="1.11" height="1.12" fill="#fbfbfb"/><rect x="-2.68" y="1.08" width="1.11" height="1.12" fill="#e3e3e3"/><rect x="-2.68" y="2.16" width="1.11" height="1.12" fill="#212121"/><rect x="-2.68" y="3.24" width="1.11" height="1.12" fill="#797979"/><rect x="-2.68" y="4.32" width="1.11" height="1.12" fill="#545454"/><rect x="-1.61" y="-5.40" width="1.11" height="1.12" fill="#717171"/><rect x="-1.61" y="-4.32" width="1.11" height="1.12" fill="#5f5f5f"/><rect x="-1.61" y="-3.24" width="1.11" height="1.12" fill="#808080"/><rect x="-1.61" y="-2.16" width="1.11" height="1.12" fill="#4f4f4f"/><rect x="-1.61" y="-1.08" width="1.11" height="1.12" fill="#494949"/><rect x="-1.61" y="0.00" width="1.11" height="1.12" fill="#444444"/><rect x="-1.61" y="1.08" width="1.11" height="1.12" fill="#8a8a8a"/><rect x="-1.61" y="2.16" width="1.11" height="1.12" fill="#333333"/><rect x="-1.61" y="3.24" width="1.11" height="1.12" fill="#585858"/><rect x="-1.61" y="4.32" width="1.11" height="1.12" fill="#636363"/><rect x="-0.54" y="-5.40" width="1.11" height="1.12" fill="#949494"/><rect x="-0.54" y="-4.32" width="1.11" height="1.12" fill="#8d8d8d"/><rect x="-0.54" y="-3.24" width="1.11" height="1.12" fill="#6f6f6f"/><rect x="-0.54" y="-2.16" width="1.11" height="1.12" fill="#313131"/><rect x="-0.54" y="-1.08" width="1.11" height="1.12" fill="#585858"/><rect x="-0.54" y="0.00" width="1.11" height="1.12" fill="#909090"/><rect x="-0.54" y="1.08" width="1.11" height="1.12" fill="#767676"/><rect x="-0.54" y="2.16" width="1.11" height="1.12" fill="#292929"/><rect x="-0.54" y="3.24" width="1.11" height="1.12" fill="#7d7d7d"/><rect x="-0.54" y="4.32" width="1.11" height="1.12" fill="#686868"/><rect x="0.54" y="-5.40" width="1.11" height="1.12" fill="#7d7d7d"/><rect x="0.54" y="-4.32" width="1.11" height="1.12" fill="#777777"/><rect x="0.54" y="-3.24" width="1.11" height="1.12" fill="#686868"/><rect x="0.54" y="-2.16" width="1.11" height="1.12" fill="#626262"/><rect x="0.54" y="-1.08" width="1.11" height="1.12" fill="#7d7d7d"/><rect x="0.54" y="0.00" width="1.11" height="1.12" fill="#636363"/><rect x="0.54" y="1.08" width="1.11" height="1.12" fill="#777777"/><rect x="0.54" y="2.16" width="1.11" height="1.12" fill="#434343"/><rect x="0.54" y="3.24" width="1.11" height="1.12" fill="#606060"/><rect x="0.54" y="4.32" width="1.11" height="1.12" fill="#6d6d6d"/><rect x="1.61" y="-5.40" width="1.11" height="1.12" fill="#777777"/><rect x="1.61" y="-4.32" width="1.11" height="1.12" fill="#676767"/><rect x="1.61" y="-3.24" width="1.11" height="1.12" fill="#7b7b7b"/><rect x="1.61" y="-2.16" width="1.11" height="1.12" fill="#676767"/><rect x="1.61" y="-1.08" width="1.11" height="1.12" fill="#838383"/><rect x="1.61" y="0.00" width="1.11" height="1.12" fill="#8d8d8d"/><rect x="1.61" y="1.08" width="1.11" height="1.12" fill="#707070"/><rect x="1.61" y="2.16" width="1.11" height="1.12" fill="#595959"/><rect x="1.61" y="3.24" width="1.11" height="1.12" fill="#888888"/><rect x="1.61" y="4.32" width="1.11" height="1.12" fill="#797979"/><rect x="2.68" y="-5.40" width="1.11" height="1.12" fill="#474747"/><rect x="2.68" y="-4.32" width="1.11" height="1.12" fill="#747474"/><rect x="2.68" y="-3.24" width="1.11" height="1.12" fill="#6b6b6b"/><rect x="2.68" y="-2.16" width="1.11" height="1.12" fill="#7d7d7d"/><rect x="2.68" y="-1.08" width="1.11" height="1.12" fill="#222222"/><rect x="2.68" y="0.00" width="1.11" height="1.12" fill="#6c6c6c"/><rect x="2.68" y="1.08" width="1.11" height="1.12" fill="#5e5e5e"/><rect x="2.68" y="2.16" width="1.11" height="1.12" fill="#353535"/><rect x="2.68" y="3.24" width="1.11" height="1.12" fill="#212121"/><rect x="2.68" y="4.32" width="1.11" height="1.12" fill="#242424"/><rect x="3.75" y="-5.40" width="1.11" height="1.12" fill="#494949"/><rect x="3.75" y="-4.32" width="1.11" height="1.12" fill="#696969"/><rect x="3.75" y="-3.24" width="1.11" height="1.12" fill="#4f4f4f"/><rect x="3.75" y="-2.16" width="1.11" height="1.12" fill="#3d3d3d"/><rect x="3.75" y="-1.08" width="1.11" height="1.12" fill="#626262"/><rect x="3.75" y="0.00" width="1.11" height="1.12" fill="#545454"/><rect x="3.75" y="1.08" width="1.11" height="1.12" fill="#3d3d3d"/><rect x="3.75" y="2.16" width="1.11" height="1.12" fill="#525252"/><rect x="3.75" y="3.24" width="1.11" height="1.12" fill="#666666"/><rect x="3.75" y="4.32" width="1.11" height="1.12" fill="#8b8b8b"/><rect x="4.83" y="-5.40" width="1.11" height="1.12" fill="#6b6b6b"/><rect x="4.83" y="-4.32" width="1.11" height="1.12" fill="#767676"/><rect x="4.83" y="-3.24" width="1.11" height="1.12" fill="#575757"/><rect x="4.83" y="-2.16" width="1.11" height="1.12" fill="#737373"/><rect x="4.83" y="-1.08" width="1.11" height="1.12" fill="#8c8c8c"/><rect x="4.83" y="0.00" width="1.11" height="1.12" fill="#676767"/><rect x="4.83" y="1.08" width="1.11" height="1.12" fill="#3a3a3a"/><rect x="4.83" y="2.16" width="1.11" height="1.12" fill="#3e3e3e"/><rect x="4.83" y="3.24" width="1.11" height="1.12" fill="#848484"/><rect x="4.83" y="4.32" width="1.11" height="1.12" fill="#2a2a2a"/></g>
<g id="bt"><rect x="-7.0" y="-6.5" width="14.0" height="13.0" fill="#181818"/><rect x="-5.6" y="-5.1" width="11.2" height="10.2" fill="#202020" stroke="#7a7a7a" stroke-width="0.5"/><ellipse cx="0.4" cy="0.2" rx="5.6" ry="5.2" fill="url(#gs)"/></g>
<g id="bd"><rect x="-7.0" y="-6.5" width="14.0" height="13.0" fill="#181818"/><rect x="-5.6" y="-5.1" width="11.2" height="10.2" fill="#262626" stroke="#6a6a6a" stroke-width="0.5"/><ellipse cx="0.4" cy="0.2" rx="5.2" ry="4.8" fill="url(#gs)" opacity="0.72"/></g>
</defs>
<rect width="685" height="788" fill="#fff"/>
<g id="imgL"><clipPath id="cl"><rect x="0" y="16.3" width="171" height="170"/></clipPath>
<rect x="0" y="16.3" width="171" height="170" fill="#222222"/><g clip-path="url(#cl)">
<circle cx="124.4" cy="22.5" r="3.51" fill="url(#gd)" opacity="0.90"/>
<circle cx="134.5" cy="23.8" r="3.33" fill="url(#gd)" opacity="0.70"/>
<circle cx="57.9" cy="43.5" r="3.42" fill="url(#gd)" opacity="0.80"/>
<circle cx="70.8" cy="52.4" r="3.60" fill="url(#gd)" opacity="1.00"/>
<circle cx="70.8" cy="52.4" r="1.1" fill="#fff"/>
<circle cx="115.2" cy="54.3" r="3.51" fill="url(#gd)" opacity="0.90"/>
<circle cx="5.6" cy="63.1" r="3.42" fill="url(#gd)" opacity="0.80"/>
<circle cx="35.3" cy="73.1" r="3.51" fill="url(#gd)" opacity="0.90"/>
<circle cx="70.6" cy="74.1" r="3.51" fill="url(#gd)" opacity="0.90"/>
<circle cx="74.9" cy="76" r="3.42" fill="url(#gd)" opacity="0.80"/>
<circle cx="51.5" cy="78.2" r="3.02" fill="url(#gd)" opacity="0.35"/>
<circle cx="136.5" cy="73.9" r="3.60" fill="url(#gd)" opacity="1.00"/>
<circle cx="136.5" cy="73.9" r="1.1" fill="#fff"/>
<circle cx="136.2" cy="82.3" r="2.83" fill="url(#gd)" opacity="0.15"/>
<circle cx="23.7" cy="82.5" r="3.60" fill="url(#gd)" opacity="1.00"/>
<circle cx="23.7" cy="82.5" r="1.1" fill="#fff"/>
<circle cx="91.3" cy="85.2" r="3.42" fill="url(#gd)" opacity="0.80"/>
<circle cx="98.3" cy="86.2" r="3.42" fill="url(#gd)" opacity="0.80"/>
<circle cx="115.4" cy="90.7" r="3.42" fill="url(#gd)" opacity="0.80"/>
<circle cx="47.3" cy="98.4" r="3.51" fill="url(#gd)" opacity="0.90"/>
<circle cx="155.9" cy="107.6" r="3.60" fill="url(#gd)" opacity="1.00"/>
<circle cx="155.9" cy="107.6" r="1.1" fill="#fff"/>
<circle cx="20.4" cy="111.1" r="3.51" fill="url(#gd)" opacity="0.90"/>
<circle cx="76.6" cy="112.2" r="3.51" fill="url(#gd)" opacity="0.90"/>
<circle cx="144" cy="117.7" r="2.97" fill="url(#gd)" opacity="0.30"/>
<circle cx="167.8" cy="119.7" r="3.06" fill="url(#gd)" opacity="0.40"/>
<circle cx="44.4" cy="123.4" r="3.51" fill="url(#gd)" opacity="0.90"/>
<circle cx="27.2" cy="135.8" r="3.51" fill="url(#gd)" opacity="0.90"/>
<circle cx="69.5" cy="139.8" r="3.42" fill="url(#gd)" opacity="0.80"/>
<circle cx="84.5" cy="144.4" r="3.51" fill="url(#gd)" opacity="0.90"/>
<circle cx="78.4" cy="159.2" r="3.51" fill="url(#gd)" opacity="0.90"/>
<circle cx="53.2" cy="168.6" r="3.51" fill="url(#gd)" opacity="0.90"/>
<circle cx="46.6" cy="169.9" r="3.51" fill="url(#gd)" opacity="0.90"/>
<circle cx="47.6" cy="173.5" r="3.51" fill="url(#gd)" opacity="0.90"/>
<circle cx="37.6" cy="180.1" r="3.42" fill="url(#gd)" opacity="0.80"/>
<circle cx="0" cy="165" r="3.06" fill="url(#gd)" opacity="0.40"/>
<circle cx="114.2" cy="172.2" r="3.42" fill="url(#gd)" opacity="0.80"/>
<circle cx="103.5" cy="177.9" r="3.42" fill="url(#gd)" opacity="0.80"/>
<circle cx="91.8" cy="183.4" r="3.42" fill="url(#gd)" opacity="0.80"/>
<circle cx="113.6" cy="184.3" r="3.42" fill="url(#gd)" opacity="0.80"/>
<circle cx="164" cy="175" r="3.51" fill="url(#gd)" opacity="0.90"/>
</g></g>
<g id="imgR"><clipPath id="cr"><rect x="513.7" y="16.3" width="171.3" height="170"/></clipPath>
<rect x="513.7" y="16.3" width="171.3" height="170" fill="#1b1b1b"/><g clip-path="url(#cr)">
<circle cx="578.1" cy="19.2" r="3.07" fill="url(#gd)" opacity="0.28"/>
<circle cx="556" cy="22.1" r="3.02" fill="url(#gd)" opacity="0.24"/>
<circle cx="521.8" cy="23.1" r="3.34" fill="url(#gd)" opacity="0.57"/>
<circle cx="586.5" cy="40" r="3.43" fill="url(#gd)" opacity="0.66"/>
<circle cx="518.3" cy="45.5" r="3.25" fill="url(#gd)" opacity="0.47"/>
<circle cx="526.4" cy="43.5" r="3.02" fill="url(#gd)" opacity="0.24"/>
<circle cx="537.6" cy="48.1" r="3.07" fill="url(#gd)" opacity="0.28"/>
<circle cx="583.2" cy="47.2" r="3.43" fill="url(#gd)" opacity="0.66"/>
<circle cx="595.7" cy="49.7" r="3.25" fill="url(#gd)" opacity="0.47"/>
<circle cx="515.3" cy="50.7" r="3.43" fill="url(#gd)" opacity="0.66"/>
<circle cx="544.8" cy="51.9" r="3.34" fill="url(#gd)" opacity="0.57"/>
<circle cx="564.3" cy="51.9" r="3.07" fill="url(#gd)" opacity="0.28"/>
<circle cx="539.6" cy="54.8" r="3.43" fill="url(#gd)" opacity="0.66"/>
<circle cx="553.6" cy="56.6" r="3.43" fill="url(#gd)" opacity="0.66"/>
<circle cx="514.2" cy="56.6" r="3.16" fill="url(#gd)" opacity="0.38"/>
<circle cx="514.6" cy="63.6" r="3.07" fill="url(#gd)" opacity="0.28"/>
<circle cx="593" cy="66.5" r="3.34" fill="url(#gd)" opacity="0.57"/>
<circle cx="573.2" cy="70.2" r="3.43" fill="url(#gd)" opacity="0.66"/>
<circle cx="543.5" cy="73.7" r="3.34" fill="url(#gd)" opacity="0.57"/>
<circle cx="554.7" cy="80" r="3.34" fill="url(#gd)" opacity="0.57"/>
<circle cx="542.1" cy="81.1" r="3.34" fill="url(#gd)" opacity="0.57"/>
<circle cx="558.4" cy="87.5" r="3.52" fill="url(#gd)" opacity="0.76"/>
<circle cx="516.8" cy="88.4" r="3.25" fill="url(#gd)" opacity="0.47"/>
<circle cx="587.5" cy="88.6" r="3.34" fill="url(#gd)" opacity="0.57"/>
<circle cx="598.7" cy="86.9" r="3.34" fill="url(#gd)" opacity="0.57"/>
<circle cx="575.4" cy="93" r="3.43" fill="url(#gd)" opacity="0.66"/>
<circle cx="559" cy="96.9" r="3.34" fill="url(#gd)" opacity="0.57"/>
<circle cx="599.3" cy="57.3" r="3.25" fill="url(#gd)" opacity="0.47"/>
<circle cx="610.5" cy="20.2" r="3.34" fill="url(#gd)" opacity="0.57"/>
<circle cx="674.6" cy="23.1" r="3.25" fill="url(#gd)" opacity="0.47"/>
<circle cx="608.1" cy="30.8" r="3.34" fill="url(#gd)" opacity="0.57"/>
<circle cx="667.7" cy="30.1" r="3.34" fill="url(#gd)" opacity="0.57"/>
<circle cx="642" cy="35" r="3.70" fill="url(#gd)" opacity="0.95"/>
<circle cx="642" cy="35" r="1.2" fill="#fff"/>
<circle cx="684.3" cy="33" r="3.25" fill="url(#gd)" opacity="0.47"/>
<circle cx="613.4" cy="37.3" r="3.43" fill="url(#gd)" opacity="0.66"/>
<circle cx="611" cy="45.1" r="3.70" fill="url(#gd)" opacity="1.00"/>
<circle cx="611" cy="45.1" r="1.2" fill="#fff"/>
<circle cx="633.1" cy="44.7" r="3.43" fill="url(#gd)" opacity="0.66"/>
<circle cx="670.2" cy="45.2" r="3.43" fill="url(#gd)" opacity="0.66"/>
<circle cx="649.1" cy="48.5" r="3.34" fill="url(#gd)" opacity="0.57"/>
<circle cx="630.9" cy="49.4" r="3.43" fill="url(#gd)" opacity="0.66"/>
<circle cx="661.6" cy="57.2" r="3.34" fill="url(#gd)" opacity="0.57"/>
<circle cx="656.5" cy="57.6" r="3.02" fill="url(#gd)" opacity="0.24"/>
<circle cx="623.6" cy="58.6" r="3.43" fill="url(#gd)" opacity="0.66"/>
<circle cx="640.3" cy="58.5" r="3.43" fill="url(#gd)" opacity="0.66"/>
<circle cx="618.7" cy="61.9" r="3.07" fill="url(#gd)" opacity="0.28"/>
<circle cx="635.3" cy="64.7" r="3.43" fill="url(#gd)" opacity="0.66"/>
<circle cx="602.5" cy="67.3" r="3.43" fill="url(#gd)" opacity="0.66"/>
<circle cx="668.8" cy="74.5" r="3.43" fill="url(#gd)" opacity="0.66"/>
<circle cx="672.7" cy="83.2" r="3.34" fill="url(#gd)" opacity="0.57"/>
<circle cx="673" cy="79.6" r="3.02" fill="url(#gd)" opacity="0.24"/>
<circle cx="633.4" cy="81.7" r="3.43" fill="url(#gd)" opacity="0.66"/>
<circle cx="644" cy="84.2" r="3.43" fill="url(#gd)" opacity="0.66"/>
<circle cx="619" cy="85.5" r="3.34" fill="url(#gd)" opacity="0.57"/>
<circle cx="629.6" cy="86.9" r="3.43" fill="url(#gd)" opacity="0.66"/>
<circle cx="609.8" cy="87.8" r="3.34" fill="url(#gd)" opacity="0.57"/>
<circle cx="635.3" cy="93.8" r="3.34" fill="url(#gd)" opacity="0.57"/>
<circle cx="608.8" cy="93.8" r="2.98" fill="url(#gd)" opacity="0.19"/>
<circle cx="646.6" cy="93" r="2.98" fill="url(#gd)" opacity="0.19"/>
<circle cx="650.8" cy="96.3" r="3.34" fill="url(#gd)" opacity="0.57"/>
<circle cx="655" cy="97.2" r="3.43" fill="url(#gd)" opacity="0.66"/>
<circle cx="665" cy="97.8" r="3.25" fill="url(#gd)" opacity="0.47"/>
<circle cx="669.4" cy="98.3" r="3.07" fill="url(#gd)" opacity="0.28"/>
<circle cx="582.5" cy="99.3" r="3.34" fill="url(#gd)" opacity="0.57"/>
<circle cx="586.5" cy="99.3" r="3.34" fill="url(#gd)" opacity="0.57"/>
<circle cx="535" cy="108.5" r="2.98" fill="url(#gd)" opacity="0.19"/>
<circle cx="514.6" cy="111.5" r="3.25" fill="url(#gd)" opacity="0.47"/>
<circle cx="520.9" cy="111.8" r="3.43" fill="url(#gd)" opacity="0.66"/>
<circle cx="528.8" cy="113.1" r="3.34" fill="url(#gd)" opacity="0.57"/>
<circle cx="565.2" cy="111.8" r="3.65" fill="url(#gd)" opacity="0.90"/>
<circle cx="565.2" cy="111.8" r="1.2" fill="#fff"/>
<circle cx="595.4" cy="111.5" r="3.25" fill="url(#gd)" opacity="0.47"/>
<circle cx="571.8" cy="119" r="3.43" fill="url(#gd)" opacity="0.66"/>
<circle cx="557" cy="125.7" r="3.43" fill="url(#gd)" opacity="0.66"/>
<circle cx="581.2" cy="126" r="3.43" fill="url(#gd)" opacity="0.66"/>
<circle cx="588.6" cy="126.8" r="3.34" fill="url(#gd)" opacity="0.57"/>
<circle cx="538.6" cy="127.6" r="3.34" fill="url(#gd)" opacity="0.57"/>
<circle cx="522.7" cy="129.7" r="3.43" fill="url(#gd)" opacity="0.66"/>
<circle cx="599.6" cy="134.3" r="3.61" fill="url(#gd)" opacity="0.85"/>
<circle cx="590.9" cy="135.8" r="3.34" fill="url(#gd)" opacity="0.57"/>
<circle cx="554.1" cy="137.9" r="3.43" fill="url(#gd)" opacity="0.66"/>
<circle cx="561.6" cy="137.2" r="2.93" fill="url(#gd)" opacity="0.14"/>
<circle cx="542.1" cy="139.7" r="3.34" fill="url(#gd)" opacity="0.57"/>
<circle cx="577" cy="140.3" r="3.34" fill="url(#gd)" opacity="0.57"/>
<circle cx="520.5" cy="141.4" r="3.34" fill="url(#gd)" opacity="0.57"/>
<circle cx="534.7" cy="147.1" r="3.34" fill="url(#gd)" opacity="0.57"/>
<circle cx="589.2" cy="147.9" r="3.34" fill="url(#gd)" opacity="0.57"/>
<circle cx="580.4" cy="150" r="3.34" fill="url(#gd)" opacity="0.57"/>
<circle cx="547.1" cy="151.1" r="3.34" fill="url(#gd)" opacity="0.57"/>
<circle cx="537.6" cy="152.9" r="3.34" fill="url(#gd)" opacity="0.57"/>
<circle cx="575.4" cy="152.9" r="3.34" fill="url(#gd)" opacity="0.57"/>
<circle cx="562.6" cy="155.3" r="3.43" fill="url(#gd)" opacity="0.66"/>
<circle cx="576.4" cy="159.2" r="3.25" fill="url(#gd)" opacity="0.47"/>
<circle cx="537.1" cy="160" r="3.34" fill="url(#gd)" opacity="0.57"/>
<circle cx="520.2" cy="160.9" r="3.34" fill="url(#gd)" opacity="0.57"/>
<circle cx="525.2" cy="162.5" r="3.34" fill="url(#gd)" opacity="0.57"/>
<circle cx="531.3" cy="167.1" r="3.34" fill="url(#gd)" opacity="0.57"/>
<circle cx="593.7" cy="167.2" r="3.25" fill="url(#gd)" opacity="0.47"/>
<circle cx="552.3" cy="170.1" r="3.34" fill="url(#gd)" opacity="0.57"/>
<circle cx="518.9" cy="171.6" r="3.34" fill="url(#gd)" opacity="0.57"/>
<circle cx="519.6" cy="173.9" r="3.25" fill="url(#gd)" opacity="0.47"/>
<circle cx="565.7" cy="178.7" r="3.34" fill="url(#gd)" opacity="0.57"/>
<circle cx="581.6" cy="179.2" r="3.43" fill="url(#gd)" opacity="0.66"/>
<circle cx="583.6" cy="180.5" r="3.43" fill="url(#gd)" opacity="0.66"/>
<circle cx="584.2" cy="185" r="3.25" fill="url(#gd)" opacity="0.47"/>
<circle cx="604.9" cy="100.4" r="3.16" fill="url(#gd)" opacity="0.38"/>
<circle cx="610.5" cy="101.3" r="3.34" fill="url(#gd)" opacity="0.57"/>
<circle cx="619.6" cy="106.8" r="3.25" fill="url(#gd)" opacity="0.47"/>
<circle cx="626" cy="107.9" r="3.43" fill="url(#gd)" opacity="0.66"/>
<circle cx="635.1" cy="105.9" r="3.34" fill="url(#gd)" opacity="0.57"/>
<circle cx="670.3" cy="112.7" r="3.34" fill="url(#gd)" opacity="0.57"/>
<circle cx="673.6" cy="111.3" r="3.34" fill="url(#gd)" opacity="0.57"/>
<circle cx="608.9" cy="121" r="3.34" fill="url(#gd)" opacity="0.57"/>
<circle cx="623" cy="122.4" r="2.93" fill="url(#gd)" opacity="0.14"/>
<circle cx="627.3" cy="125.3" r="3.43" fill="url(#gd)" opacity="0.66"/>
<circle cx="669.9" cy="125.6" r="2.98" fill="url(#gd)" opacity="0.19"/>
<circle cx="604.6" cy="133.5" r="3.70" fill="url(#gd)" opacity="1.00"/>
<circle cx="604.6" cy="133.5" r="1.2" fill="#fff"/>
<circle cx="606.3" cy="142" r="3.34" fill="url(#gd)" opacity="0.57"/>
<circle cx="653.2" cy="139.8" r="3.25" fill="url(#gd)" opacity="0.47"/>
<circle cx="654.1" cy="143.7" r="3.25" fill="url(#gd)" opacity="0.47"/>
<circle cx="620" cy="148.2" r="3.65" fill="url(#gd)" opacity="0.90"/>
<circle cx="620" cy="148.2" r="1.2" fill="#fff"/>
<circle cx="656.5" cy="154" r="3.56" fill="url(#gd)" opacity="0.81"/>
<circle cx="671.9" cy="156.1" r="3.34" fill="url(#gd)" opacity="0.57"/>
<circle cx="618" cy="162.1" r="3.25" fill="url(#gd)" opacity="0.47"/>
<circle cx="643.9" cy="165.8" r="3.25" fill="url(#gd)" opacity="0.47"/>
<circle cx="651.8" cy="170.7" r="3.65" fill="url(#gd)" opacity="0.90"/>
<circle cx="651.8" cy="170.7" r="1.2" fill="#fff"/>
<circle cx="667.7" cy="171.6" r="3.34" fill="url(#gd)" opacity="0.57"/>
<circle cx="669.4" cy="174.5" r="3.25" fill="url(#gd)" opacity="0.47"/>
<circle cx="631.4" cy="173.2" r="3.34" fill="url(#gd)" opacity="0.57"/>
<circle cx="658.3" cy="180.9" r="3.65" fill="url(#gd)" opacity="0.90"/>
<circle cx="658.3" cy="180.9" r="1.2" fill="#fff"/>
<circle cx="615.4" cy="181.7" r="3.25" fill="url(#gd)" opacity="0.47"/>
<circle cx="669.6" cy="185.8" r="3.16" fill="url(#gd)" opacity="0.38"/>
<circle cx="684.3" cy="167" r="3.07" fill="url(#gd)" opacity="0.28"/>
</g></g>
<rect x="15.1" y="35.9" width="8.8" height="3.7" fill="#fff"/>
<rect x="529.4" y="35.9" width="8.6" height="3.7" fill="#fff"/>
<text class="lb" x="6.4" y="31.2" font-size="13" style="fill:#fff" textLength="29.6" lengthAdjust="spacingAndGlyphs">1 µm</text>
<text class="lb" x="520.1" y="31.2" font-size="13" style="fill:#fff" textLength="29.6" lengthAdjust="spacingAndGlyphs">1 µm</text>
<text class="lb" x="26.2" y="12.4" font-size="15.6" textLength="125.2" lengthAdjust="spacingAndGlyphs">One single frame</text>
<text class="lb" x="537.1" y="12.1" font-size="15.6" textLength="124.5" lengthAdjust="spacingAndGlyphs">One single frame</text>
<text class="lb" x="1.8" y="7.4" font-size="12.6">a</text>
<text class="lb" x="4.2" y="205" font-size="12.6">b</text>
<g id="schem">
<text class="lb" x="229.4" y="31" font-size="13.3" textLength="44" lengthAdjust="spacingAndGlyphs">Shorter</text>
<text class="lb" x="302.8" y="18.7" font-size="13.3" textLength="73.4" lengthAdjust="spacingAndGlyphs">Binding time</text>
<text class="lb" x="404.5" y="31" font-size="13.3" textLength="41.3" lengthAdjust="spacingAndGlyphs">Longer</text>
<line x1="280" y1="27" x2="393" y2="27" stroke="#000" stroke-width="1.8"/>
<path d="M398,27 L391.6,23.6 L391.6,30.4 Z" fill="#000"/>
<line x1="338.5" y1="40.2" x2="338.5" y2="173" stroke="#000" stroke-width="1.8" stroke-dasharray="1.8 2.1"/>
<polygon points="212.1,119.1 214.62,117.3 292.90000000000003,117.3 289.3,119.1" fill="#D9A050"/><polygon points="289.3,119.1 292.90000000000003,117.3 292.90000000000003,125.8 289.3,127.6" fill="#A36A1C"/><rect x="212.1" y="119.1" width="77.20000000000002" height="8.5" fill="#C5842B"/>
<text class="lb" x="216.8" y="146.3" font-size="15.4" style="fill:#9D6A27" textLength="67.6" lengthAdjust="spacingAndGlyphs">Domain 1</text>
<text class="lb" x="216.1" y="165.3" font-size="15.4" style="fill:#9D6A27" textLength="70" lengthAdjust="spacingAndGlyphs">(8nt-10nt)</text>
<line x1="228" y1="99.3" x2="247.2" y2="78.2" stroke="#000" stroke-width="1.9"/><path d="M229.40,97.76l3.11,2.83M230.97,96.04l3.11,2.83M232.53,94.33l3.11,2.83M234.09,92.61l3.11,2.83M235.65,90.89l3.11,2.83M237.21,89.18l3.11,2.83M238.77,87.46l3.11,2.83M240.33,85.75l3.11,2.83M241.89,84.03l3.11,2.83M243.45,82.32l3.11,2.83M245.01,80.60l3.11,2.83M246.58,78.89l3.11,2.83" stroke="#000" stroke-width="1.15" fill="none"/>
<line x1="246.7" y1="118" x2="265.4" y2="98.2" stroke="#000" stroke-width="1.9"/><path d="M248.73,115.85l-3.27,-3.09M250.98,113.47l-3.27,-3.09M253.23,111.08l-3.27,-3.09M255.49,108.70l-3.27,-3.09M257.74,106.31l-3.27,-3.09M259.99,103.93l-3.27,-3.09M262.25,101.54l-3.27,-3.09M264.50,99.15l-3.27,-3.09" stroke="#000" stroke-width="1.15" fill="none"/>
<path d="M241.70,92.90L243.48,97.00L246.05,93.94Z" fill="#000"/><line x1="244.15" y1="94.96" x2="249.52" y2="99.45" stroke="#000" stroke-width="1.15"/><path d="M252.20,101.70L247.85,100.66L250.42,97.60Z" fill="#000"/>
<line x1="218.30" y1="72.90" x2="227.88" y2="82.34" stroke="#000" stroke-width="1.9"/><path d="M231.80,86.20L225.28,84.27L229.77,79.71Z" fill="#000"/>
<line x1="283.60" y1="108.20" x2="269.90" y2="108.20" stroke="#000" stroke-width="1.9"/><path d="M264.40,108.20L270.40,105.00L270.40,111.40Z" fill="#000"/>
<polygon points="230.20,102.80 228.74,103.93 229.36,105.67 227.52,105.82 227.10,107.62 225.47,106.76 224.15,108.05 223.24,106.44 221.43,106.81 221.53,104.96 219.81,104.29 220.90,102.80 219.81,101.31 221.53,100.64 221.43,98.79 223.24,99.16 224.15,97.55 225.47,98.84 227.10,97.98 227.52,99.78 229.36,99.93 228.74,101.67" fill="#E5007D"/>
<text class="lb" x="173.6" y="65" font-size="12.6" textLength="45.7" lengthAdjust="spacingAndGlyphs">10nt P3</text>
<text class="lb" x="289.6" y="113" font-size="12.6" textLength="42" lengthAdjust="spacingAndGlyphs">8nt P3’</text>
<line x1="228.4" y1="57" x2="236.6" y2="71.6" stroke="#bdbdbd" stroke-width="2.3"/><path d="M229.40,56.44l-2.01,1.13M230.43,58.26l-2.01,1.13M231.45,60.09l-2.01,1.13M232.48,61.91l-2.01,1.13M233.50,63.74l-2.01,1.13M234.53,65.56l-2.01,1.13M235.55,67.39l-2.01,1.13M236.58,69.21l-2.01,1.13M237.60,71.04l-2.01,1.13" stroke="#444" stroke-width="0.65" fill="none"/><line x1="227.40" y1="57.56" x2="235.60" y2="72.16" stroke="#444" stroke-width="0.6"/>
<circle cx="226.9" cy="53.3" r="2.7" fill="#F7B4D6"/>
<line x1="262.8" y1="60.6" x2="271.9" y2="49.6" stroke="#333" stroke-width="1.2"/><circle cx="262.7" cy="60.7" r="1.9" fill="#F7B4D6"/>
<line x1="275.2" y1="78.6" x2="288.6" y2="90.8" stroke="#bdbdbd" stroke-width="2.3"/><path d="M275.97,77.75l-1.55,1.70M277.31,78.97l-1.55,1.70M278.65,80.19l-1.55,1.70M279.99,81.41l-1.55,1.70M281.33,82.63l-1.55,1.70M282.67,83.85l-1.55,1.70M284.01,85.07l-1.55,1.70M285.35,86.29l-1.55,1.70M286.69,87.51l-1.55,1.70M288.03,88.73l-1.55,1.70M289.37,89.95l-1.55,1.70" stroke="#444" stroke-width="0.65" fill="none"/><line x1="274.43" y1="79.45" x2="287.83" y2="91.65" stroke="#444" stroke-width="0.6"/>
<circle cx="273.4" cy="76" r="2.8" fill="#F7B4D6"/>
<line x1="289.40" y1="58.80" x2="280.11" y2="68.65" stroke="#E5007D" stroke-width="2.1"/><path d="M276.20,72.80L278.05,66.03L282.85,70.55Z" fill="#E5007D"/>
<text class="lb" x="292.3" y="52.6" font-size="13.3" style="fill:#E5007D" textLength="34.8" lengthAdjust="spacingAndGlyphs">ATTO</text>
<text class="lb" x="298.9" y="68.6" font-size="13.3" style="fill:#E5007D" textLength="22.2" lengthAdjust="spacingAndGlyphs">532</text>
<circle cx="155.9" cy="107.6" r="5" fill="none" stroke="#E5007D" stroke-width="1.9" stroke-dasharray="5.5 2.2" stroke-dashoffset="2"/>
<line x1="161" y1="107.3" x2="212" y2="103.3" stroke="#E5007D" stroke-width="2" stroke-dasharray="6.5 3.2"/>
<path d="M218.6,102.8 L212.3,99.8 L212.8,106.6 Z" fill="#E5007D"/>
<polygon points="380.2,119.1 382.58,117.19999999999999 461.4,117.19999999999999 458,119.1" fill="#49A563"/><polygon points="458,119.1 461.4,117.19999999999999 461.4,125.5 458,127.4" fill="#1F6E35"/><rect x="380.2" y="119.1" width="77.80000000000001" height="8.300000000000011" fill="#2D8A48"/>
<text class="lb" x="385.8" y="146.1" font-size="15.4" style="fill:#2F8F4B" textLength="69.6" lengthAdjust="spacingAndGlyphs">Domain 2</text>
<text class="lb" x="381.4" y="165.5" font-size="15.4" style="fill:#2F8F4B" textLength="78.4" lengthAdjust="spacingAndGlyphs">(10nt-10nt)</text>
<line x1="395.5" y1="100.6" x2="414.5" y2="79.4" stroke="#000" stroke-width="1.9"/><path d="M396.89,99.05l3.13,2.80M398.43,97.33l3.13,2.80M399.98,95.60l3.13,2.80M401.52,93.88l3.13,2.80M403.07,92.15l3.13,2.80M404.61,90.43l3.13,2.80M406.16,88.71l3.13,2.80M407.70,86.98l3.13,2.80M409.25,85.26l3.13,2.80M410.79,83.54l3.13,2.80M412.34,81.81l3.13,2.80M413.88,80.09l3.13,2.80" stroke="#000" stroke-width="1.15" fill="none"/>
<line x1="416" y1="117.4" x2="434.2" y2="94.6" stroke="#000" stroke-width="1.9"/><path d="M417.45,115.58l-3.52,-2.81M419.06,113.57l-3.52,-2.81M420.67,111.55l-3.52,-2.81M422.28,109.53l-3.52,-2.81M423.89,107.51l-3.52,-2.81M425.50,105.50l-3.52,-2.81M427.11,103.48l-3.52,-2.81M428.72,101.46l-3.52,-2.81M430.33,99.44l-3.52,-2.81M431.95,97.42l-3.52,-2.81M433.56,95.41l-3.52,-2.81" stroke="#000" stroke-width="1.15" fill="none"/>
<path d="M409.40,94.30L411.34,98.33L413.79,95.16Z" fill="#000"/><line x1="411.93" y1="96.26" x2="417.63" y2="100.66" stroke="#000" stroke-width="1.15"/><path d="M420.40,102.80L416.01,101.94L418.46,98.77Z" fill="#000"/>
<line x1="386.80" y1="76.80" x2="395.91" y2="85.42" stroke="#000" stroke-width="1.9"/><path d="M399.90,89.20L393.34,87.40L397.74,82.75Z" fill="#000"/>
<line x1="453.90" y1="107.00" x2="440.00" y2="107.00" stroke="#000" stroke-width="1.9"/><path d="M434.50,107.00L440.50,103.80L440.50,110.20Z" fill="#000"/>
<polygon points="397.50,103.80 396.04,104.93 396.66,106.67 394.82,106.82 394.40,108.62 392.77,107.76 391.45,109.05 390.54,107.44 388.73,107.81 388.83,105.96 387.11,105.29 388.20,103.80 387.11,102.31 388.83,101.64 388.73,99.79 390.54,100.16 391.45,98.55 392.77,99.84 394.40,98.98 394.82,100.78 396.66,100.93 396.04,102.67" fill="#E5007D"/>
<text class="lb" x="344.8" y="72.3" font-size="12.6" textLength="44.8" lengthAdjust="spacingAndGlyphs">10nt P3</text>
<text class="lb" x="460.2" y="110.8" font-size="12.6" textLength="49" lengthAdjust="spacingAndGlyphs">10nt P3’</text>
<line x1="396.3" y1="56.8" x2="404.9" y2="71.2" stroke="#bdbdbd" stroke-width="2.3"/><path d="M397.29,56.21l-1.97,1.18M398.36,58.01l-1.97,1.18M399.44,59.81l-1.97,1.18M400.51,61.61l-1.97,1.18M401.59,63.41l-1.97,1.18M402.66,65.21l-1.97,1.18M403.74,67.01l-1.97,1.18M404.81,68.81l-1.97,1.18M405.89,70.61l-1.97,1.18" stroke="#444" stroke-width="0.65" fill="none"/><line x1="395.31" y1="57.39" x2="403.91" y2="71.79" stroke="#444" stroke-width="0.6"/>
<circle cx="395.2" cy="53" r="2.7" fill="#F7B4D6"/>
<line x1="430.9" y1="60.1" x2="440.1" y2="49.6" stroke="#333" stroke-width="1.2"/><circle cx="430.8" cy="60.2" r="1.9" fill="#F7B4D6"/>
<line x1="443.4" y1="78.2" x2="457" y2="90.4" stroke="#bdbdbd" stroke-width="2.3"/><path d="M444.17,77.34l-1.54,1.71M445.53,78.56l-1.54,1.71M446.89,79.78l-1.54,1.71M448.25,81.00l-1.54,1.71M449.61,82.22l-1.54,1.71M450.97,83.44l-1.54,1.71M452.33,84.66l-1.54,1.71M453.69,85.88l-1.54,1.71M455.05,87.10l-1.54,1.71M456.41,88.32l-1.54,1.71M457.77,89.54l-1.54,1.71" stroke="#444" stroke-width="0.65" fill="none"/><line x1="442.63" y1="79.06" x2="456.23" y2="91.26" stroke="#444" stroke-width="0.6"/>
<circle cx="441.8" cy="75.5" r="2.8" fill="#F7B4D6"/>
<line x1="458.70" y1="58.40" x2="449.31" y2="68.35" stroke="#E5007D" stroke-width="2.1"/><path d="M445.40,72.50L447.25,65.73L452.05,70.25Z" fill="#E5007D"/>
<text class="lb" x="461.3" y="52.3" font-size="13.3" style="fill:#E5007D" textLength="34.9" lengthAdjust="spacingAndGlyphs">ATTO</text>
<text class="lb" x="467.7" y="68.3" font-size="13.3" style="fill:#E5007D" textLength="22.1" lengthAdjust="spacingAndGlyphs">532</text>
</g>
<rect x="95.2" y="208.5" width="567.6999999999999" height="236.8" fill="#fff"/>
<path d="M120.50,208.5V445.3M184.95,208.5V445.3M249.40,208.5V445.3M313.85,208.5V445.3M378.30,208.5V445.3M442.75,208.5V445.3M507.20,208.5V445.3M571.65,208.5V445.3M636.10,208.5V445.3M95.2,435.20H662.9M95.2,405.22H662.9M95.2,375.25H662.9M95.2,345.27H662.9M95.2,315.30H662.9M95.2,285.32H662.9M95.2,255.35H662.9M95.2,225.37H662.9" stroke="#d2d2d2" stroke-width="0.9" stroke-dasharray="2.1 1.5" fill="none"/>
<polyline points="120.5,429.6 121.1,430.4 121.8,430.7 122.4,427.3 123.1,433.8 123.7,428.8 124.4,426.0 125.0,429.1 125.7,426.7 126.3,430.1 126.9,427.4 127.6,428.5 128.2,426.7 128.9,426.9 129.5,428.0 130.2,431.3 130.8,432.1 131.5,431.8 132.1,428.5 132.7,430.7 133.4,426.8 134.0,427.7 134.7,430.9 135.3,430.0 136.0,427.7 136.6,426.4 137.3,427.4 137.9,425.9 138.5,423.7 139.2,427.6 139.8,424.7 140.5,425.6 141.1,424.0 141.8,425.2 142.4,427.6 143.1,428.8 143.7,424.1 144.3,424.5 145.0,425.0 145.6,425.2 146.3,426.4 146.9,422.6 147.6,425.1 148.2,429.4 148.9,420.8 149.5,423.9 150.1,428.2 150.8,426.1 151.4,424.7 152.1,423.8 152.7,426.3 153.4,427.9 154.0,431.5 154.7,428.0 155.3,429.9 155.9,426.5 156.6,433.8 157.2,422.6 157.9,429.2 158.5,427.5 159.2,424.3 159.8,422.8 160.5,422.8 161.1,429.3 161.7,424.5 162.4,426.7 163.0,431.2 163.7,431.4 164.3,430.2 165.0,428.4 165.6,428.8 166.3,426.8 166.9,429.9 167.5,427.1 168.2,429.4 168.8,432.4 169.5,428.9 170.1,426.6 170.8,433.9 171.4,426.8 172.1,428.8 172.7,423.0 173.3,428.2 174.0,434.5 174.6,433.2 175.3,433.9 175.9,427.3 176.6,430.9 177.2,428.1 177.9,431.3 178.5,431.4 179.1,432.5 179.8,427.8 180.4,427.5 181.1,430.1 181.7,431.3 182.4,428.8 183.0,426.8 183.7,426.9 184.3,382.7 184.9,296.1 185.6,269.1 186.2,268.2 186.9,289.0 187.5,290.4 188.2,292.0 188.8,291.0 189.5,290.4 190.1,290.5 190.8,295.3 191.4,292.3 192.0,292.6 192.7,289.7 193.3,293.6 194.0,295.6 194.6,290.6 195.3,291.9 195.9,290.4 196.6,294.3 197.2,290.3 197.8,292.6 198.5,292.0 199.1,292.5 199.8,294.7 200.4,290.1 201.1,292.4 201.7,263.2 202.4,263.9 203.0,262.6 203.6,264.4 204.3,295.2 204.9,368.6 205.6,402.0 206.2,402.3 206.9,405.1 207.5,407.0 208.2,403.5 208.8,409.0 209.4,410.2 210.1,406.0 210.7,408.3 211.4,407.4 212.0,403.1 212.7,410.7 213.3,405.5 214.0,408.9 214.6,405.8 215.2,406.8 215.9,410.3 216.5,410.0 217.2,401.2 217.8,404.1 218.5,406.7 219.1,402.0 219.8,407.8 220.4,403.7 221.0,408.3 221.7,407.0 222.3,407.5 223.0,407.8 223.6,403.6 224.3,405.6 224.9,408.7 225.6,410.1 226.2,406.6 226.8,405.6 227.5,402.3 228.1,402.1 228.8,409.0 229.4,408.5 230.1,404.1 230.7,409.3 231.4,400.1 232.0,404.3 232.6,405.6 233.3,407.0 233.9,406.9 234.6,405.8 235.2,404.5 235.9,409.1 236.5,408.7 237.2,409.2 237.8,407.3 238.4,403.3 239.1,403.4 239.7,409.4 240.4,405.6 241.0,402.3 241.7,405.7 242.3,405.8 243.0,403.6 243.6,407.8 244.2,404.2 244.9,403.0 245.5,402.7 246.2,403.4 246.8,407.0 247.5,405.5 248.1,408.0 248.8,403.8 249.4,410.1 250.0,409.3 250.7,407.5 251.3,410.7 252.0,406.8 252.6,401.7 253.3,397.4 253.9,406.5 254.6,401.8 255.2,404.8 255.8,407.7 256.5,406.8 257.1,405.0 257.8,406.1 258.4,412.2 259.1,406.9 259.7,408.6 260.4,409.8 261.0,408.1 261.6,407.9 262.3,410.1 262.9,409.8 263.6,406.9 264.2,412.6 264.9,406.5 265.5,401.4 266.2,405.1 266.8,404.4 267.4,408.2 268.1,408.1 268.7,412.7 269.4,405.0 270.0,409.9 270.7,405.7 271.3,407.2 272.0,408.3 272.6,411.1 273.2,409.1 273.9,409.9 274.5,406.5 275.2,401.0 275.8,410.7 276.5,408.4 277.1,407.5 277.8,409.5 278.4,408.2 279.0,407.0 279.7,404.6 280.3,405.8 281.0,409.7 281.6,401.0 282.3,409.2 282.9,410.7 283.6,409.3 284.2,406.9 284.8,411.4 285.5,407.2 286.1,411.1 286.8,405.8 287.4,406.8 288.1,406.8 288.7,399.7 289.4,407.8 290.0,405.3 290.6,402.8 291.3,403.6 291.9,407.0 292.6,399.6 293.2,398.2 293.9,397.6 294.5,401.7 295.2,401.0 295.8,402.6 296.4,389.6 297.1,395.6 297.7,411.8 298.4,402.1 299.0,401.3 299.7,396.7 300.3,398.7 301.0,402.7 301.6,398.9 302.2,393.5 302.9,396.6 303.5,397.5 304.2,401.2 304.8,403.1 305.5,398.1 306.1,398.7 306.8,400.9 307.4,397.5 308.0,398.9 308.7,398.5 309.3,399.6 310.0,388.4 310.6,372.3 311.3,378.8 311.9,397.6 312.6,389.7 313.2,397.2 313.9,392.6 314.5,398.5 315.1,399.0 315.8,398.5 316.4,388.9 317.1,397.2 317.7,394.2 318.4,392.1 319.0,396.7 319.7,396.7 320.3,387.8 320.9,392.0 321.6,395.7 322.2,395.1 322.9,402.8 323.5,396.4 324.2,400.1 324.8,398.5 325.5,396.7 326.1,399.7 326.7,406.3 327.4,396.8 328.0,405.8 328.7,399.2 329.3,394.7 330.0,397.0 330.6,400.3 331.3,401.5 331.9,400.2 332.5,394.7 333.2,410.0 333.8,402.5 334.5,397.1 335.1,396.5 335.8,399.2 336.4,403.9 337.1,400.9 337.7,398.5 338.3,399.4 339.0,395.7 339.6,398.5 340.3,394.3 340.9,396.3 341.6,398.0 342.2,395.9 342.9,402.3 343.5,401.5 344.1,393.8 344.8,399.3 345.4,396.4 346.1,400.2 346.7,398.7 347.4,399.3 348.0,402.1 348.7,400.2 349.3,406.3 349.9,398.2 350.6,396.2 351.2,401.9 351.9,396.5 352.5,403.4 353.2,402.3 353.8,402.7 354.5,403.5 355.1,407.6 355.7,404.2 356.4,405.6 357.0,405.0 357.7,405.3 358.3,401.1 359.0,403.3 359.6,405.2 360.3,403.1 360.9,411.7 361.5,403.9 362.2,402.3 362.8,399.5 363.5,404.1 364.1,401.6 364.8,405.8 365.4,402.6 366.1,409.0 366.7,405.6 367.3,404.3 368.0,402.1 368.6,407.8 369.3,404.9 369.9,402.4 370.6,404.1 371.2,409.2 371.9,402.1 372.5,407.7 373.1,411.4 373.8,410.0 374.4,405.7 375.1,409.8 375.7,409.7 376.4,402.5 377.0,411.7 377.7,408.7 378.3,407.4 378.9,413.3 379.6,408.2 380.2,407.8 380.9,410.5 381.5,416.3 382.2,407.2 382.8,405.3 383.5,406.4 384.1,409.3 384.7,404.3 385.4,406.9 386.0,407.0 386.7,406.9 387.3,407.3 388.0,408.2 388.6,406.1 389.3,407.0 389.9,407.9 390.5,402.1 391.2,404.5 391.8,404.7 392.5,406.7 393.1,405.5 393.8,405.6 394.4,408.2 395.1,411.4 395.7,406.6 396.3,408.6 397.0,408.8 397.6,403.6 398.3,405.7 398.9,406.5 399.6,404.1 400.2,404.2 400.9,405.2 401.5,405.4 402.1,408.9 402.8,406.2 403.4,407.4 404.1,406.0 404.7,403.8 405.4,408.9 406.0,402.6 406.7,406.8 407.3,402.6 407.9,402.3 408.6,403.4 409.2,404.2 409.9,308.0 410.5,240.6 411.2,236.4 411.8,237.7 412.5,237.2 413.1,237.7 413.7,240.5 414.4,237.0 415.0,235.6 415.7,236.2 416.3,239.5 417.0,241.0 417.6,234.5 418.3,238.2 418.9,235.7 419.5,234.2 420.2,236.2 420.8,240.7 421.5,231.6 422.1,238.2 422.8,236.0 423.4,239.9 424.1,235.1 424.7,238.1 425.3,233.8 426.0,233.1 426.6,238.8 427.3,239.4 427.9,239.8 428.6,238.8 429.2,232.6 429.9,232.1 430.5,234.1 431.1,238.0 431.8,237.8 432.4,236.9 433.1,235.6 433.7,237.8 434.4,240.5 435.0,236.7 435.7,238.9 436.3,236.0 436.9,236.1 437.6,239.0 438.2,239.4 438.9,330.2 439.5,408.1 440.2,409.0 440.8,407.2 441.5,407.2 442.1,411.4 442.8,412.5 443.4,411.1 444.0,413.9 444.7,409.0 445.3,414.2 446.0,413.0 446.6,411.6 447.3,412.0 447.9,417.3 448.6,414.8 449.2,413.0 449.8,411.2 450.5,407.5 451.1,410.3 451.8,407.2 452.4,409.5 453.1,407.2 453.7,408.4 454.4,410.1 455.0,412.5 455.6,408.0 456.3,405.6 456.9,413.7 457.6,407.0 458.2,406.4 458.9,408.6 459.5,406.7 460.2,408.2 460.8,410.3 461.4,407.4 462.1,409.6 462.7,406.0 463.4,405.3 464.0,408.3 464.7,406.9 465.3,403.1 466.0,409.1 466.6,409.9 467.2,408.8 467.9,412.1 468.5,403.7 469.2,402.1 469.8,406.7 470.5,409.9 471.1,409.5 471.8,408.8 472.4,414.4 473.0,409.4 473.7,407.7 474.3,411.7 475.0,408.3 475.6,414.8 476.3,409.6 476.9,413.0 477.6,408.8 478.2,411.0 478.8,406.6 479.5,404.0 480.1,408.6 480.8,410.5 481.4,412.4 482.1,406.3 482.7,408.8 483.4,411.6 484.0,407.0 484.6,404.3 485.3,409.0 485.9,409.8 486.6,408.7 487.2,412.4 487.9,414.4 488.5,410.7 489.2,415.1 489.8,413.8 490.4,415.9 491.1,412.1 491.7,412.3 492.4,412.1 493.0,410.7 493.7,415.1 494.3,407.5 495.0,406.4 495.6,409.5 496.2,412.7 496.9,414.1 497.5,409.5 498.2,408.5 498.8,408.5 499.5,404.9 500.1,404.4 500.8,409.2 501.4,409.3 502.0,405.1 502.7,405.3 503.3,409.0 504.0,403.7 504.6,402.7 505.3,403.3 505.9,401.1 506.6,407.4 507.2,402.1 507.8,402.8 508.5,404.2 509.1,405.9 509.8,405.5 510.4,406.0 511.1,405.5 511.7,406.1 512.4,404.7 513.0,405.6 513.6,400.6 514.3,406.5 514.9,401.0 515.6,404.5 516.2,405.1 516.9,405.0 517.5,405.0 518.2,402.8 518.8,404.4 519.4,401.5 520.1,405.9 520.7,400.8 521.4,398.1 522.0,399.4 522.7,399.6 523.3,398.2 524.0,399.2 524.6,397.7 525.2,398.4 525.9,399.4 526.5,400.3 527.2,399.1 527.8,402.5 528.5,400.0 529.1,398.5 529.8,398.9 530.4,404.1 531.0,401.3 531.7,402.1 532.3,404.9 533.0,401.1 533.6,399.2 534.3,396.9 534.9,396.9 535.6,401.2 536.2,400.7 536.8,400.7 537.5,401.7 538.1,399.4 538.8,402.6 539.4,404.2 540.1,406.0 540.7,400.5 541.4,398.3 542.0,401.5 542.6,403.4 543.3,400.1 543.9,401.4 544.6,400.0 545.2,404.3 545.9,401.8 546.5,409.8 547.2,400.9 547.8,411.0 548.4,406.3 549.1,405.9 549.7,404.9 550.4,403.7 551.0,402.6 551.7,403.7 552.3,404.4 553.0,401.7 553.6,403.6 554.2,403.1 554.9,401.7 555.5,407.7 556.2,405.3 556.8,404.1 557.5,403.4 558.1,402.2 558.8,405.9 559.4,403.3 560.0,403.5 560.7,404.9 561.3,399.8 562.0,400.7 562.6,409.5 563.3,403.9 563.9,405.7 564.6,407.9 565.2,404.9 565.8,401.8 566.5,406.9 567.1,405.3 567.8,401.9 568.4,402.5 569.1,404.3 569.7,402.4 570.4,406.2 571.0,403.3 571.6,403.2 572.3,405.9 572.9,408.3 573.6,410.5 574.2,407.5 574.9,403.9 575.5,404.6 576.2,411.6 576.8,406.6 577.5,401.9 578.1,406.1 578.7,405.2 579.4,409.4 580.0,404.3 580.7,405.0 581.3,406.8 582.0,405.7 582.6,402.4 583.3,402.2 583.9,406.8 584.5,399.1 585.2,404.1 585.8,401.1 586.5,406.3 587.1,406.3 587.8,407.1 588.4,402.5 589.1,408.7 589.7,407.1 590.3,409.7 591.0,409.2 591.6,403.1 592.3,406.9 592.9,405.0 593.6,410.7 594.2,407.0 594.9,409.4 595.5,409.4 596.1,407.3 596.8,401.9 597.4,403.0 598.1,400.5 598.7,404.2 599.4,404.2 600.0,406.9 600.7,405.4 601.3,410.5 601.9,404.0 602.6,410.5 603.2,406.7 603.9,409.7 604.5,407.9 605.2,405.3 605.8,406.3 606.5,406.2 607.1,406.0 607.7,407.5 608.4,408.9 609.0,404.4 609.7,406.2 610.3,406.8 611.0,407.5 611.6,405.0 612.3,408.7 612.9,403.7 613.5,408.9 614.2,410.6 614.8,405.6 615.5,410.4 616.1,402.2 616.8,411.2 617.4,406.0 618.1,409.1 618.7,406.5 619.3,405.9 620.0,404.6 620.6,405.4 621.3,407.0 621.9,407.1 622.6,409.7 623.2,411.9 623.9,408.9 624.5,413.0 625.1,409.9 625.8,409.8 626.4,411.2 627.1,410.1 627.7,411.5 628.4,410.5 629.0,415.6 629.7,411.4 630.3,412.5 630.9,413.9 631.6,411.4 632.2,414.0 632.9,415.4 633.5,414.6 634.2,412.6 634.8,412.5 635.5,413.2 636.1,413.4" fill="none" stroke="#FBA120" stroke-width="1.3" stroke-linejoin="round"/>
<path d="M120.5,429.6h0M121.1,430.4h0M121.8,430.7h0M122.4,427.3h0M123.1,433.8h0M123.7,428.8h0M124.4,426.0h0M125.0,429.1h0M125.7,426.7h0M126.3,430.1h0M126.9,427.4h0M127.6,428.5h0M128.2,426.7h0M128.9,426.9h0M129.5,428.0h0M130.2,431.3h0M130.8,432.1h0M131.5,431.8h0M132.1,428.5h0M132.7,430.7h0M133.4,426.8h0M134.0,427.7h0M134.7,430.9h0M135.3,430.0h0M136.0,427.7h0M136.6,426.4h0M137.3,427.4h0M137.9,425.9h0M138.5,423.7h0M139.2,427.6h0M139.8,424.7h0M140.5,425.6h0M141.1,424.0h0M141.8,425.2h0M142.4,427.6h0M143.1,428.8h0M143.7,424.1h0M144.3,424.5h0M145.0,425.0h0M145.6,425.2h0M146.3,426.4h0M146.9,422.6h0M147.6,425.1h0M148.2,429.4h0M148.9,420.8h0M149.5,423.9h0M150.1,428.2h0M150.8,426.1h0M151.4,424.7h0M152.1,423.8h0M152.7,426.3h0M153.4,427.9h0M154.0,431.5h0M154.7,428.0h0M155.3,429.9h0M155.9,426.5h0M156.6,433.8h0M157.2,422.6h0M157.9,429.2h0M158.5,427.5h0M159.2,424.3h0M159.8,422.8h0M160.5,422.8h0M161.1,429.3h0M161.7,424.5h0M162.4,426.7h0M163.0,431.2h0M163.7,431.4h0M164.3,430.2h0M165.0,428.4h0M165.6,428.8h0M166.3,426.8h0M166.9,429.9h0M167.5,427.1h0M168.2,429.4h0M168.8,432.4h0M169.5,428.9h0M170.1,426.6h0M170.8,433.9h0M171.4,426.8h0M172.1,428.8h0M172.7,423.0h0M173.3,428.2h0M174.0,434.5h0M174.6,433.2h0M175.3,433.9h0M175.9,427.3h0M176.6,430.9h0M177.2,428.1h0M177.9,431.3h0M178.5,431.4h0M179.1,432.5h0M179.8,427.8h0M180.4,427.5h0M181.1,430.1h0M181.7,431.3h0M182.4,428.8h0M183.0,426.8h0M183.7,426.9h0M184.3,382.7h0M184.9,296.1h0M185.6,269.1h0M186.2,268.2h0M186.9,289.0h0M187.5,290.4h0M188.2,292.0h0M188.8,291.0h0M189.5,290.4h0M190.1,290.5h0M190.8,295.3h0M191.4,292.3h0M192.0,292.6h0M192.7,289.7h0M193.3,293.6h0M194.0,295.6h0M194.6,290.6h0M195.3,291.9h0M195.9,290.4h0M196.6,294.3h0M197.2,290.3h0M197.8,292.6h0M198.5,292.0h0M199.1,292.5h0M199.8,294.7h0M200.4,290.1h0M201.1,292.4h0M201.7,263.2h0M202.4,263.9h0M203.0,262.6h0M203.6,264.4h0M204.3,295.2h0M204.9,368.6h0M205.6,402.0h0M206.2,402.3h0M206.9,405.1h0M207.5,407.0h0M208.2,403.5h0M208.8,409.0h0M209.4,410.2h0M210.1,406.0h0M210.7,408.3h0M211.4,407.4h0M212.0,403.1h0M212.7,410.7h0M213.3,405.5h0M214.0,408.9h0M214.6,405.8h0M215.2,406.8h0M215.9,410.3h0M216.5,410.0h0M217.2,401.2h0M217.8,404.1h0M218.5,406.7h0M219.1,402.0h0M219.8,407.8h0M220.4,403.7h0M221.0,408.3h0M221.7,407.0h0M222.3,407.5h0M223.0,407.8h0M223.6,403.6h0M224.3,405.6h0M224.9,408.7h0M225.6,410.1h0M226.2,406.6h0M226.8,405.6h0M227.5,402.3h0M228.1,402.1h0M228.8,409.0h0M229.4,408.5h0M230.1,404.1h0M230.7,409.3h0M231.4,400.1h0M232.0,404.3h0M232.6,405.6h0M233.3,407.0h0M233.9,406.9h0M234.6,405.8h0M235.2,404.5h0M235.9,409.1h0M236.5,408.7h0M237.2,409.2h0M237.8,407.3h0M238.4,403.3h0M239.1,403.4h0M239.7,409.4h0M240.4,405.6h0M241.0,402.3h0M241.7,405.7h0M242.3,405.8h0M243.0,403.6h0M243.6,407.8h0M244.2,404.2h0M244.9,403.0h0M245.5,402.7h0M246.2,403.4h0M246.8,407.0h0M247.5,405.5h0M248.1,408.0h0M248.8,403.8h0M249.4,410.1h0M250.0,409.3h0M250.7,407.5h0M251.3,410.7h0M252.0,406.8h0M252.6,401.7h0M253.3,397.4h0M253.9,406.5h0M254.6,401.8h0M255.2,404.8h0M255.8,407.7h0M256.5,406.8h0M257.1,405.0h0M257.8,406.1h0M258.4,412.2h0M259.1,406.9h0M259.7,408.6h0M260.4,409.8h0M261.0,408.1h0M261.6,407.9h0M262.3,410.1h0M262.9,409.8h0M263.6,406.9h0M264.2,412.6h0M264.9,406.5h0M265.5,401.4h0M266.2,405.1h0M266.8,404.4h0M267.4,408.2h0M268.1,408.1h0M268.7,412.7h0M269.4,405.0h0M270.0,409.9h0M270.7,405.7h0M271.3,407.2h0M272.0,408.3h0M272.6,411.1h0M273.2,409.1h0M273.9,409.9h0M274.5,406.5h0M275.2,401.0h0M275.8,410.7h0M276.5,408.4h0M277.1,407.5h0M277.8,409.5h0M278.4,408.2h0M279.0,407.0h0M279.7,404.6h0M280.3,405.8h0M281.0,409.7h0M281.6,401.0h0M282.3,409.2h0M282.9,410.7h0M283.6,409.3h0M284.2,406.9h0M284.8,411.4h0M285.5,407.2h0M286.1,411.1h0M286.8,405.8h0M287.4,406.8h0M288.1,406.8h0M288.7,399.7h0M289.4,407.8h0M290.0,405.3h0M290.6,402.8h0M291.3,403.6h0M291.9,407.0h0M292.6,399.6h0M293.2,398.2h0M293.9,397.6h0M294.5,401.7h0M295.2,401.0h0M295.8,402.6h0M296.4,389.6h0M297.1,395.6h0M297.7,411.8h0M298.4,402.1h0M299.0,401.3h0M299.7,396.7h0M300.3,398.7h0M301.0,402.7h0M301.6,398.9h0M302.2,393.5h0M302.9,396.6h0M303.5,397.5h0M304.2,401.2h0M304.8,403.1h0M305.5,398.1h0M306.1,398.7h0M306.8,400.9h0M307.4,397.5h0M308.0,398.9h0M308.7,398.5h0M309.3,399.6h0M310.0,388.4h0M310.6,372.3h0M311.3,378.8h0M311.9,397.6h0M312.6,389.7h0M313.2,397.2h0M313.9,392.6h0M314.5,398.5h0M315.1,399.0h0M315.8,398.5h0M316.4,388.9h0M317.1,397.2h0M317.7,394.2h0M318.4,392.1h0M319.0,396.7h0M319.7,396.7h0M320.3,387.8h0M320.9,392.0h0M321.6,395.7h0M322.2,395.1h0M322.9,402.8h0M323.5,396.4h0M324.2,400.1h0M324.8,398.5h0M325.5,396.7h0M326.1,399.7h0M326.7,406.3h0M327.4,396.8h0M328.0,405.8h0M328.7,399.2h0M329.3,394.7h0M330.0,397.0h0M330.6,400.3h0M331.3,401.5h0M331.9,400.2h0M332.5,394.7h0M333.2,410.0h0M333.8,402.5h0M334.5,397.1h0M335.1,396.5h0M335.8,399.2h0M336.4,403.9h0M337.1,400.9h0M337.7,398.5h0M338.3,399.4h0M339.0,395.7h0M339.6,398.5h0M340.3,394.3h0M340.9,396.3h0M341.6,398.0h0M342.2,395.9h0M342.9,402.3h0M343.5,401.5h0M344.1,393.8h0M344.8,399.3h0M345.4,396.4h0M346.1,400.2h0M346.7,398.7h0M347.4,399.3h0M348.0,402.1h0M348.7,400.2h0M349.3,406.3h0M349.9,398.2h0M350.6,396.2h0M351.2,401.9h0M351.9,396.5h0M352.5,403.4h0M353.2,402.3h0M353.8,402.7h0M354.5,403.5h0M355.1,407.6h0M355.7,404.2h0M356.4,405.6h0M357.0,405.0h0M357.7,405.3h0M358.3,401.1h0M359.0,403.3h0M359.6,405.2h0M360.3,403.1h0M360.9,411.7h0M361.5,403.9h0M362.2,402.3h0M362.8,399.5h0M363.5,404.1h0M364.1,401.6h0M364.8,405.8h0M365.4,402.6h0M366.1,409.0h0M366.7,405.6h0M367.3,404.3h0M368.0,402.1h0M368.6,407.8h0M369.3,404.9h0M369.9,402.4h0M370.6,404.1h0M371.2,409.2h0M371.9,402.1h0M372.5,407.7h0M373.1,411.4h0M373.8,410.0h0M374.4,405.7h0M375.1,409.8h0M375.7,409.7h0M376.4,402.5h0M377.0,411.7h0M377.7,408.7h0M378.3,407.4h0M378.9,413.3h0M379.6,408.2h0M380.2,407.8h0M380.9,410.5h0M381.5,416.3h0M382.2,407.2h0M382.8,405.3h0M383.5,406.4h0M384.1,409.3h0M384.7,404.3h0M385.4,406.9h0M386.0,407.0h0M386.7,406.9h0M387.3,407.3h0M388.0,408.2h0M388.6,406.1h0M389.3,407.0h0M389.9,407.9h0M390.5,402.1h0M391.2,404.5h0M391.8,404.7h0M392.5,406.7h0M393.1,405.5h0M393.8,405.6h0M394.4,408.2h0M395.1,411.4h0M395.7,406.6h0M396.3,408.6h0M397.0,408.8h0M397.6,403.6h0M398.3,405.7h0M398.9,406.5h0M399.6,404.1h0M400.2,404.2h0M400.9,405.2h0M401.5,405.4h0M402.1,408.9h0M402.8,406.2h0M403.4,407.4h0M404.1,406.0h0M404.7,403.8h0M405.4,408.9h0M406.0,402.6h0M406.7,406.8h0M407.3,402.6h0M407.9,402.3h0M408.6,403.4h0M409.2,404.2h0M409.9,308.0h0M410.5,240.6h0M411.2,236.4h0M411.8,237.7h0M412.5,237.2h0M413.1,237.7h0M413.7,240.5h0M414.4,237.0h0M415.0,235.6h0M415.7,236.2h0M416.3,239.5h0M417.0,241.0h0M417.6,234.5h0M418.3,238.2h0M418.9,235.7h0M419.5,234.2h0M420.2,236.2h0M420.8,240.7h0M421.5,231.6h0M422.1,238.2h0M422.8,236.0h0M423.4,239.9h0M424.1,235.1h0M424.7,238.1h0M425.3,233.8h0M426.0,233.1h0M426.6,238.8h0M427.3,239.4h0M427.9,239.8h0M428.6,238.8h0M429.2,232.6h0M429.9,232.1h0M430.5,234.1h0M431.1,238.0h0M431.8,237.8h0M432.4,236.9h0M433.1,235.6h0M433.7,237.8h0M434.4,240.5h0M435.0,236.7h0M435.7,238.9h0M436.3,236.0h0M436.9,236.1h0M437.6,239.0h0M438.2,239.4h0M438.9,330.2h0M439.5,408.1h0M440.2,409.0h0M440.8,407.2h0M441.5,407.2h0M442.1,411.4h0M442.8,412.5h0M443.4,411.1h0M444.0,413.9h0M444.7,409.0h0M445.3,414.2h0M446.0,413.0h0M446.6,411.6h0M447.3,412.0h0M447.9,417.3h0M448.6,414.8h0M449.2,413.0h0M449.8,411.2h0M450.5,407.5h0M451.1,410.3h0M451.8,407.2h0M452.4,409.5h0M453.1,407.2h0M453.7,408.4h0M454.4,410.1h0M455.0,412.5h0M455.6,408.0h0M456.3,405.6h0M456.9,413.7h0M457.6,407.0h0M458.2,406.4h0M458.9,408.6h0M459.5,406.7h0M460.2,408.2h0M460.8,410.3h0M461.4,407.4h0M462.1,409.6h0M462.7,406.0h0M463.4,405.3h0M464.0,408.3h0M464.7,406.9h0M465.3,403.1h0M466.0,409.1h0M466.6,409.9h0M467.2,408.8h0M467.9,412.1h0M468.5,403.7h0M469.2,402.1h0M469.8,406.7h0M470.5,409.9h0M471.1,409.5h0M471.8,408.8h0M472.4,414.4h0M473.0,409.4h0M473.7,407.7h0M474.3,411.7h0M475.0,408.3h0M475.6,414.8h0M476.3,409.6h0M476.9,413.0h0M477.6,408.8h0M478.2,411.0h0M478.8,406.6h0M479.5,404.0h0M480.1,408.6h0M480.8,410.5h0M481.4,412.4h0M482.1,406.3h0M482.7,408.8h0M483.4,411.6h0M484.0,407.0h0M484.6,404.3h0M485.3,409.0h0M485.9,409.8h0M486.6,408.7h0M487.2,412.4h0M487.9,414.4h0M488.5,410.7h0M489.2,415.1h0M489.8,413.8h0M490.4,415.9h0M491.1,412.1h0M491.7,412.3h0M492.4,412.1h0M493.0,410.7h0M493.7,415.1h0M494.3,407.5h0M495.0,406.4h0M495.6,409.5h0M496.2,412.7h0M496.9,414.1h0M497.5,409.5h0M498.2,408.5h0M498.8,408.5h0M499.5,404.9h0M500.1,404.4h0M500.8,409.2h0M501.4,409.3h0M502.0,405.1h0M502.7,405.3h0M503.3,409.0h0M504.0,403.7h0M504.6,402.7h0M505.3,403.3h0M505.9,401.1h0M506.6,407.4h0M507.2,402.1h0M507.8,402.8h0M508.5,404.2h0M509.1,405.9h0M509.8,405.5h0M510.4,406.0h0M511.1,405.5h0M511.7,406.1h0M512.4,404.7h0M513.0,405.6h0M513.6,400.6h0M514.3,406.5h0M514.9,401.0h0M515.6,404.5h0M516.2,405.1h0M516.9,405.0h0M517.5,405.0h0M518.2,402.8h0M518.8,404.4h0M519.4,401.5h0M520.1,405.9h0M520.7,400.8h0M521.4,398.1h0M522.0,399.4h0M522.7,399.6h0M523.3,398.2h0M524.0,399.2h0M524.6,397.7h0M525.2,398.4h0M525.9,399.4h0M526.5,400.3h0M527.2,399.1h0M527.8,402.5h0M528.5,400.0h0M529.1,398.5h0M529.8,398.9h0M530.4,404.1h0M531.0,401.3h0M531.7,402.1h0M532.3,404.9h0M533.0,401.1h0M533.6,399.2h0M534.3,396.9h0M534.9,396.9h0M535.6,401.2h0M536.2,400.7h0M536.8,400.7h0M537.5,401.7h0M538.1,399.4h0M538.8,402.6h0M539.4,404.2h0M540.1,406.0h0M540.7,400.5h0M541.4,398.3h0M542.0,401.5h0M542.6,403.4h0M543.3,400.1h0M543.9,401.4h0M544.6,400.0h0M545.2,404.3h0M545.9,401.8h0M546.5,409.8h0M547.2,400.9h0M547.8,411.0h0M548.4,406.3h0M549.1,405.9h0M549.7,404.9h0M550.4,403.7h0M551.0,402.6h0M551.7,403.7h0M552.3,404.4h0M553.0,401.7h0M553.6,403.6h0M554.2,403.1h0M554.9,401.7h0M555.5,407.7h0M556.2,405.3h0M556.8,404.1h0M557.5,403.4h0M558.1,402.2h0M558.8,405.9h0M559.4,403.3h0M560.0,403.5h0M560.7,404.9h0M561.3,399.8h0M562.0,400.7h0M562.6,409.5h0M563.3,403.9h0M563.9,405.7h0M564.6,407.9h0M565.2,404.9h0M565.8,401.8h0M566.5,406.9h0M567.1,405.3h0M567.8,401.9h0M568.4,402.5h0M569.1,404.3h0M569.7,402.4h0M570.4,406.2h0M571.0,403.3h0M571.6,403.2h0M572.3,405.9h0M572.9,408.3h0M573.6,410.5h0M574.2,407.5h0M574.9,403.9h0M575.5,404.6h0M576.2,411.6h0M576.8,406.6h0M577.5,401.9h0M578.1,406.1h0M578.7,405.2h0M579.4,409.4h0M580.0,404.3h0M580.7,405.0h0M581.3,406.8h0M582.0,405.7h0M582.6,402.4h0M583.3,402.2h0M583.9,406.8h0M584.5,399.1h0M585.2,404.1h0M585.8,401.1h0M586.5,406.3h0M587.1,406.3h0M587.8,407.1h0M588.4,402.5h0M589.1,408.7h0M589.7,407.1h0M590.3,409.7h0M591.0,409.2h0M591.6,403.1h0M592.3,406.9h0M592.9,405.0h0M593.6,410.7h0M594.2,407.0h0M594.9,409.4h0M595.5,409.4h0M596.1,407.3h0M596.8,401.9h0M597.4,403.0h0M598.1,400.5h0M598.7,404.2h0M599.4,404.2h0M600.0,406.9h0M600.7,405.4h0M601.3,410.5h0M601.9,404.0h0M602.6,410.5h0M603.2,406.7h0M603.9,409.7h0M604.5,407.9h0M605.2,405.3h0M605.8,406.3h0M606.5,406.2h0M607.1,406.0h0M607.7,407.5h0M608.4,408.9h0M609.0,404.4h0M609.7,406.2h0M610.3,406.8h0M611.0,407.5h0M611.6,405.0h0M612.3,408.7h0M612.9,403.7h0M613.5,408.9h0M614.2,410.6h0M614.8,405.6h0M615.5,410.4h0M616.1,402.2h0M616.8,411.2h0M617.4,406.0h0M618.1,409.1h0M618.7,406.5h0M619.3,405.9h0M620.0,404.6h0M620.6,405.4h0M621.3,407.0h0M621.9,407.1h0M622.6,409.7h0M623.2,411.9h0M623.9,408.9h0M624.5,413.0h0M625.1,409.9h0M625.8,409.8h0M626.4,411.2h0M627.1,410.1h0M627.7,411.5h0M628.4,410.5h0M629.0,415.6h0M629.7,411.4h0M630.3,412.5h0M630.9,413.9h0M631.6,411.4h0M632.2,414.0h0M632.9,415.4h0M633.5,414.6h0M634.2,412.6h0M634.8,412.5h0M635.5,413.2h0M636.1,413.4h0" stroke="#FBA120" stroke-width="4.8" stroke-linecap="round" fill="none"/>
<use href="#n1" x="120.6" y="429.0"/>
<use href="#n2" x="146.4" y="428.2"/>
<use href="#n3" x="172.2" y="430.2"/>
<use href="#bd" x="184.6" y="383.8"/>
<use href="#bt" x="185.1" y="293.6"/>
<use href="#bt" x="185.6" y="298.1"/>
<use href="#bt" x="185.6" y="267.0"/>
<use href="#bt" x="197.5" y="289.9"/>
<use href="#bt" x="201.7" y="261.6"/>
<use href="#bt" x="203.5" y="262.6"/>
<use href="#bt" x="203.5" y="293.6"/>
<use href="#bd" x="205.0" y="367.9"/>
<use href="#n2" x="224.5" y="406.0"/>
<use href="#n1" x="249.8" y="406.3"/>
<use href="#n3" x="275.1" y="408.4"/>
<use href="#n2" x="297.0" y="389.5"/>
<use href="#n1" x="301.2" y="407.4"/>
<use href="#n3" x="311.1" y="372.1"/>
<use href="#n2" x="327.0" y="402.2"/>
<use href="#n1" x="344.4" y="392.7"/>
<use href="#n3" x="352.8" y="398.4"/>
<use href="#n2" x="378.4" y="411.1"/>
<use href="#n1" x="404.1" y="404.4"/>
<use href="#bd" x="410.8" y="309.5"/>
<use href="#bt" x="410.8" y="234.3"/>
<use href="#bt" x="424.5" y="238.5"/>
<use href="#bt" x="430.0" y="229.0"/>
<use href="#bd" x="438.6" y="328.5"/>
<use href="#n3" x="456.0" y="409.4"/>
<use href="#n2" x="481.8" y="411.6"/>
<use href="#n1" x="507.0" y="407.5"/>
<use href="#n3" x="533.0" y="401.0"/>
<use href="#n2" x="558.8" y="405.9"/>
<use href="#n1" x="584.6" y="402.9"/>
<use href="#n3" x="610.4" y="405.4"/>
<use href="#n2" x="636.2" y="414.4"/>
<rect x="95.2" y="208.5" width="567.6999999999999" height="236.8" fill="none" stroke="#3c3c3c" stroke-width="1.1"/>
<path d="M120.50,445.3v4M184.95,445.3v4M249.40,445.3v4M313.85,445.3v4M378.30,445.3v4M442.75,445.3v4M507.20,445.3v4M571.65,445.3v4M636.10,445.3v4M95.2,435.20h-4M95.2,405.22h-4M95.2,375.25h-4M95.2,345.27h-4M95.2,315.30h-4M95.2,285.32h-4M95.2,255.35h-4M95.2,225.37h-4" stroke="#3c3c3c" stroke-width="1" fill="none"/>
<text class="dj" x="115.8" y="461.5" font-size="13.9" textLength="9.5" lengthAdjust="spacingAndGlyphs">0</text>
<text class="dj" x="170.7" y="461.5" font-size="13.9" textLength="28.5" lengthAdjust="spacingAndGlyphs">100</text>
<text class="dj" x="235.2" y="461.5" font-size="13.9" textLength="28.5" lengthAdjust="spacingAndGlyphs">200</text>
<text class="dj" x="299.6" y="461.5" font-size="13.9" textLength="28.5" lengthAdjust="spacingAndGlyphs">300</text>
<text class="dj" x="364.1" y="461.5" font-size="13.9" textLength="28.5" lengthAdjust="spacingAndGlyphs">400</text>
<text class="dj" x="428.5" y="461.5" font-size="13.9" textLength="28.5" lengthAdjust="spacingAndGlyphs">500</text>
<text class="dj" x="492.9" y="461.5" font-size="13.9" textLength="28.5" lengthAdjust="spacingAndGlyphs">600</text>
<text class="dj" x="557.4" y="461.5" font-size="13.9" textLength="28.5" lengthAdjust="spacingAndGlyphs">700</text>
<text class="dj" x="621.9" y="461.5" font-size="13.9" textLength="28.5" lengthAdjust="spacingAndGlyphs">800</text>
<text class="dj" x="79.6" y="440.4" font-size="13.9" textLength="9.5" lengthAdjust="spacingAndGlyphs">0</text>
<text class="dj" x="51.3" y="410.4" font-size="13.9" textLength="37.8" lengthAdjust="spacingAndGlyphs">2500</text>
<text class="dj" x="51.3" y="380.4" font-size="13.9" textLength="37.8" lengthAdjust="spacingAndGlyphs">5000</text>
<text class="dj" x="51.3" y="350.5" font-size="13.9" textLength="37.8" lengthAdjust="spacingAndGlyphs">7500</text>
<text class="dj" x="41.8" y="320.5" font-size="13.9" textLength="47.3" lengthAdjust="spacingAndGlyphs">10000</text>
<text class="dj" x="41.8" y="290.5" font-size="13.9" textLength="47.3" lengthAdjust="spacingAndGlyphs">12500</text>
<text class="dj" x="41.8" y="260.5" font-size="13.9" textLength="47.3" lengthAdjust="spacingAndGlyphs">15000</text>
<text class="dj" x="41.8" y="230.6" font-size="13.9" textLength="47.3" lengthAdjust="spacingAndGlyphs">17500</text>
<text class="dj" x="66.7" y="205.9" font-size="13.9" textLength="60.6" lengthAdjust="spacingAndGlyphs">+17133</text>
<text class="dj" x="611.6" y="477.7" font-size="13.9" textLength="50.6" lengthAdjust="spacingAndGlyphs">+6229</text>
<text class="dj" x="276.8" y="479.0" font-size="14.6" textLength="205.2" lengthAdjust="spacingAndGlyphs">Frame Index (× 100 ms)</text>
<text class="dj" transform="translate(34,382.2) rotate(-90)" font-size="15.8" textLength="110" lengthAdjust="spacingAndGlyphs">Total Intensity</text>
<text class="dj" x="195.3" y="204" font-size="16" textLength="367" lengthAdjust="spacingAndGlyphs">Domain 1 (8nt-10nt): Intensity vs Frame</text>
<rect x="533.4" y="215.4" width="121.1" height="25" rx="2.6" fill="#fff" fill-opacity="0.8" stroke="#d0d0d0" stroke-width="1"/>
<line x1="539.1" y1="227.1" x2="570.1" y2="227.1" stroke="#FBA120" stroke-width="1.3"/><circle cx="554.6" cy="227.1" r="2.3" fill="#FBA120"/>
<text class="dj" x="582.5" y="232.4" font-size="15.2" textLength="65.3" lengthAdjust="spacingAndGlyphs">Intensity</text>
<rect x="250.2" y="309.5" width="113.1" height="43.9" fill="none" stroke="#000" stroke-width="2.4"/>
<text class="lb" x="254.8" y="328.8" font-size="15.8" textLength="101" lengthAdjust="spacingAndGlyphs">Length-based</text>
<text class="lb" x="274.6" y="348" font-size="15.8" textLength="62" lengthAdjust="spacingAndGlyphs">methods</text>
<path d="M185.30,351.40L191.10,354.90L191.10,347.90Z" fill="#000"/><line x1="189.94" y1="351.40" x2="199.80" y2="351.40" stroke="#000" stroke-width="2.1"/><path d="M205.10,351.40L199.30,354.90L199.30,347.90Z" fill="#000"/>
<path d="M195.2,351V331.8H243.5" stroke="#000" stroke-width="2.0" stroke-dasharray="3.6 1.6" fill="none"/>
<path d="M249.70,331.80L243.30,335.30L244.71,331.80L243.30,328.30Z" fill="#000"/>
<path d="M410.00,351.20L415.80,354.70L415.80,347.70Z" fill="#000"/><line x1="414.64" y1="351.20" x2="433.30" y2="351.20" stroke="#000" stroke-width="2.1"/><path d="M438.60,351.20L432.80,354.70L432.80,347.70Z" fill="#000"/>
<path d="M424.5,351V331.8H370.5" stroke="#000" stroke-width="2.0" stroke-dasharray="3.6 1.6" fill="none"/>
<path d="M364.70,331.80L371.10,328.30L369.69,331.80L371.10,335.30Z" fill="#000"/>
<path d="M306.6,308.3V292" stroke="#000" stroke-width="2.0" stroke-dasharray="3.6 1.6" fill="none"/>
<path d="M306.60,285.70L310.50,292.30L306.60,290.85L302.70,292.30Z" fill="#000"/>
<text><tspan class="dj" x="205.8" y="328.0" font-size="15.5" style="fill:#000" textLength="14.6" lengthAdjust="spacingAndGlyphs">∼</tspan><tspan class="lb" x="220.3" y="327.4" font-size="12.2" textLength="17.8" lengthAdjust="spacingAndGlyphs">3 s</tspan></text>
<text><tspan class="dj" x="370.4" y="328.0" font-size="15.5" style="fill:#000" textLength="14.6" lengthAdjust="spacingAndGlyphs">∼</tspan><tspan class="lb" x="384.7" y="327.4" font-size="12.2" textLength="17.8" lengthAdjust="spacingAndGlyphs">4 s</tspan></text>
<text class="lb" font-size="14.3"><tspan x="253.6" y="277.9" textLength="102.8" lengthAdjust="spacingAndGlyphs">Domain 1 or 2</tspan> <tspan x="362.3" y="277.9" textLength="11.6" lengthAdjust="spacingAndGlyphs">···</tspan></text>
<rect x="95.2" y="515.0" width="567.6999999999999" height="236.5" fill="#fff"/>
<path d="M120.50,515.0V751.5M184.95,515.0V751.5M249.40,515.0V751.5M313.85,515.0V751.5M378.30,515.0V751.5M442.75,515.0V751.5M507.20,515.0V751.5M571.65,515.0V751.5M636.10,515.0V751.5M95.2,741.30H662.9M95.2,710.87H662.9M95.2,680.44H662.9M95.2,650.02H662.9M95.2,619.59H662.9M95.2,589.16H662.9M95.2,558.73H662.9M95.2,528.31H662.9" stroke="#d2d2d2" stroke-width="0.9" stroke-dasharray="2.1 1.5" fill="none"/>
<polyline points="120.5,692.5 121.1,689.9 121.8,692.7 122.4,692.1 123.1,688.1 123.7,687.7 124.4,690.5 125.0,694.4 125.7,694.0 126.3,692.7 126.9,696.9 127.6,697.3 128.2,692.5 128.9,694.8 129.5,695.6 130.2,692.2 130.8,694.4 131.5,697.6 132.1,697.0 132.7,691.7 133.4,695.2 134.0,691.5 134.7,690.6 135.3,696.1 136.0,691.1 136.6,691.0 137.3,696.7 137.9,691.1 138.5,696.7 139.2,693.3 139.8,696.2 140.5,700.6 141.1,686.2 141.8,690.6 142.4,688.3 143.1,698.8 143.7,697.1 144.3,696.4 145.0,696.4 145.6,692.2 146.3,690.3 146.9,691.8 147.6,692.0 148.2,687.8 148.9,690.7 149.5,694.5 150.1,689.3 150.8,693.0 151.4,687.1 152.1,697.3 152.7,694.6 153.4,697.9 154.0,694.5 154.7,689.7 155.3,696.1 155.9,696.2 156.6,689.3 157.2,689.3 157.9,693.8 158.5,691.4 159.2,694.1 159.8,688.7 160.5,693.7 161.1,694.5 161.7,692.2 162.4,689.1 163.0,689.1 163.7,690.2 164.3,693.7 165.0,698.6 165.6,699.7 166.3,699.2 166.9,692.3 167.5,692.8 168.2,698.2 168.8,700.4 169.5,698.9 170.1,695.7 170.8,692.3 171.4,698.0 172.1,700.1 172.7,703.7 173.3,701.3 174.0,701.4 174.6,696.7 175.3,703.5 175.9,705.7 176.6,709.3 177.2,709.5 177.9,709.5 178.5,707.0 179.1,703.8 179.8,704.3 180.4,702.4 181.1,704.2 181.7,707.7 182.4,710.9 183.0,714.0 183.7,704.0 184.3,657.0 184.9,563.3 185.6,541.4 186.2,546.1 186.9,550.5 187.5,550.9 188.2,543.5 188.8,539.6 189.5,541.7 190.1,539.4 190.8,544.9 191.4,543.0 192.0,537.1 192.7,548.8 193.3,534.3 194.0,537.1 194.6,532.5 195.3,541.7 195.9,532.8 196.6,540.7 197.2,536.6 197.8,535.8 198.5,543.7 199.1,551.4 199.8,548.8 200.4,547.9 201.1,553.8 201.7,558.4 202.4,554.4 203.0,558.3 203.6,564.0 204.3,558.2 204.9,558.6 205.6,561.9 206.2,559.8 206.9,559.4 207.5,559.8 208.2,565.9 208.8,560.7 209.4,565.2 210.1,569.1 210.7,569.0 211.4,565.9 212.0,563.4 212.7,564.1 213.3,571.4 214.0,569.3 214.6,565.0 215.2,568.7 215.9,572.1 216.5,573.8 217.2,571.4 217.8,574.2 218.5,571.3 219.1,577.7 219.8,573.2 220.4,572.7 221.0,565.2 221.7,568.3 222.3,573.2 223.0,569.4 223.6,570.5 224.3,578.0 224.9,580.1 225.6,570.9 226.2,575.9 226.8,576.1 227.5,572.9 228.1,575.2 228.8,573.6 229.4,576.8 230.1,575.4 230.7,576.7 231.4,567.9 232.0,569.8 232.6,575.3 233.3,573.6 233.9,573.2 234.6,577.7 235.2,575.0 235.9,576.7 236.5,570.5 237.2,577.8 237.8,576.2 238.4,576.0 239.1,576.6 239.7,656.0 240.4,736.2 241.0,727.0 241.7,733.4 242.3,728.5 243.0,723.6 243.6,725.6 244.2,731.0 244.9,731.6 245.5,727.3 246.2,730.7 246.8,724.9 247.5,727.2 248.1,736.0 248.8,734.9 249.4,726.2 250.0,734.0 250.7,730.1 251.3,730.2 252.0,732.3 252.6,731.4 253.3,726.1 253.9,729.5 254.6,729.0 255.2,729.1 255.8,725.2 256.5,730.0 257.1,732.0 257.8,729.7 258.4,733.5 259.1,736.1 259.7,730.2 260.4,728.9 261.0,725.5 261.6,732.8 262.3,735.3 262.9,738.4 263.6,731.7 264.2,736.0 264.9,732.2 265.5,731.3 266.2,730.0 266.8,731.6 267.4,731.4 268.1,735.1 268.7,728.8 269.4,731.9 270.0,729.2 270.7,729.6 271.3,724.7 272.0,729.6 272.6,728.2 273.2,734.3 273.9,726.8 274.5,731.9 275.2,730.3 275.8,730.6 276.5,729.9 277.1,728.2 277.8,730.9 278.4,728.3 279.0,725.9 279.7,729.3 280.3,723.7 281.0,724.3 281.6,730.9 282.3,732.1 282.9,730.9 283.6,728.5 284.2,723.5 284.8,731.7 285.5,732.9 286.1,730.3 286.8,728.4 287.4,729.3 288.1,730.5 288.7,728.0 289.4,730.2 290.0,726.9 290.6,729.3 291.3,718.9 291.9,729.5 292.6,729.1 293.2,728.5 293.9,731.3 294.5,730.5 295.2,726.2 295.8,727.6 296.4,726.8 297.1,720.4 297.7,723.8 298.4,728.9 299.0,726.2 299.7,725.7 300.3,727.8 301.0,729.0 301.6,728.9 302.2,726.9 302.9,728.2 303.5,726.6 304.2,730.6 304.8,730.6 305.5,730.4 306.1,727.2 306.8,726.6 307.4,726.7 308.0,714.5 308.7,596.7 309.3,597.8 310.0,592.9 310.6,592.9 311.3,601.5 311.9,594.8 312.6,591.6 313.2,592.4 313.9,593.7 314.5,601.2 315.1,599.6 315.8,595.1 316.4,601.7 317.1,598.8 317.7,594.5 318.4,589.4 319.0,592.9 319.7,596.2 320.3,597.5 320.9,600.1 321.6,598.0 322.2,592.4 322.9,591.2 323.5,593.9 324.2,596.4 324.8,592.6 325.5,590.1 326.1,594.7 326.7,596.6 327.4,596.3 328.0,604.3 328.7,593.6 329.3,591.5 330.0,599.6 330.6,598.7 331.3,593.8 331.9,585.7 332.5,590.5 333.2,593.9 333.8,590.2 334.5,595.8 335.1,601.9 335.8,601.6 336.4,603.8 337.1,600.6 337.7,597.8 338.3,598.2 339.0,598.1 339.6,591.9 340.3,602.0 340.9,598.6 341.6,596.0 342.2,599.1 342.9,599.0 343.5,593.2 344.1,591.4 344.8,596.8 345.4,664.1 346.1,722.1 346.7,724.4 347.4,729.1 348.0,725.0 348.7,728.1 349.3,725.9 349.9,725.7 350.6,729.9 351.2,731.5 351.9,731.3 352.5,731.3 353.2,732.7 353.8,733.7 354.5,728.4 355.1,731.5 355.7,727.0 356.4,725.6 357.0,726.1 357.7,728.2 358.3,728.0 359.0,734.6 359.6,732.0 360.3,731.8 360.9,727.8 361.5,734.6 362.2,727.0 362.8,727.9 363.5,718.6 364.1,704.7 364.8,704.3 365.4,706.6 366.1,704.9 366.7,708.4 367.3,704.6 368.0,702.6 368.6,702.8 369.3,706.8 369.9,707.8 370.6,704.7 371.2,700.4 371.9,708.2 372.5,710.2 373.1,703.3 373.8,706.2 374.4,709.1 375.1,703.5 375.7,712.4 376.4,703.4 377.0,713.8 377.7,712.3 378.3,713.1 378.9,712.0 379.6,713.0 380.2,709.3 380.9,713.7 381.5,706.5 382.2,706.0 382.8,708.7 383.5,710.7 384.1,713.8 384.7,712.2 385.4,712.7 386.0,712.9 386.7,708.8 387.3,713.4 388.0,708.2 388.6,708.1 389.3,706.8 389.9,709.0 390.5,705.8 391.2,706.7 391.8,710.6 392.5,709.9 393.1,710.2 393.8,714.2 394.4,710.0 395.1,712.8 395.7,706.4 396.3,709.5 397.0,707.1 397.6,706.6 398.3,704.7 398.9,709.8 399.6,703.1 400.2,705.1 400.9,706.7 401.5,706.4 402.1,708.0 402.8,706.5 403.4,705.2 404.1,709.2 404.7,703.2 405.4,705.3 406.0,709.7 406.7,703.0 407.3,704.6 407.9,707.2 408.6,698.6 409.2,709.7 409.9,706.1 410.5,707.8 411.2,706.9 411.8,706.2 412.5,704.8 413.1,712.0 413.7,703.4 414.4,704.9 415.0,705.0 415.7,703.7 416.3,707.8 417.0,708.4 417.6,704.0 418.3,706.3 418.9,700.9 419.5,705.1 420.2,701.3 420.8,704.2 421.5,709.1 422.1,699.7 422.8,701.4 423.4,707.8 424.1,705.0 424.7,708.0 425.3,709.7 426.0,710.8 426.6,711.1 427.3,707.9 427.9,710.0 428.6,711.8 429.2,709.6 429.9,714.8 430.5,712.7 431.1,714.8 431.8,717.2 432.4,717.6 433.1,718.7 433.7,713.0 434.4,713.1 435.0,714.1 435.7,715.9 436.3,717.9 436.9,710.9 437.6,717.1 438.2,717.8 438.9,713.8 439.5,713.4 440.2,716.5 440.8,722.0 441.5,716.6 442.1,714.5 442.8,717.1 443.4,715.4 444.0,711.0 444.7,719.7 445.3,714.5 446.0,711.9 446.6,723.2 447.3,717.0 447.9,712.2 448.6,711.4 449.2,717.0 449.8,713.4 450.5,715.8 451.1,715.5 451.8,713.1 452.4,715.0 453.1,719.8 453.7,712.3 454.4,719.4 455.0,720.6 455.6,715.4 456.3,715.5 456.9,719.2 457.6,717.2 458.2,716.9 458.9,712.9 459.5,718.9 460.2,719.1 460.8,712.9 461.4,716.9 462.1,712.4 462.7,718.3 463.4,715.9 464.0,721.2 464.7,716.4 465.3,718.4 466.0,712.1 466.6,719.9 467.2,717.7 467.9,720.1 468.5,718.6 469.2,721.3 469.8,719.4 470.5,724.9 471.1,720.7 471.8,719.7 472.4,721.7 473.0,721.5 473.7,720.0 474.3,716.7 475.0,721.1 475.6,714.5 476.3,719.3 476.9,719.6 477.6,715.3 478.2,719.2 478.8,715.6 479.5,717.1 480.1,724.7 480.8,721.6 481.4,720.2 482.1,721.2 482.7,722.4 483.4,727.4 484.0,728.8 484.6,732.7 485.3,734.3 485.9,737.5 486.6,733.9 487.2,730.6 487.9,736.4 488.5,736.5 489.2,736.9 489.8,738.4 490.4,737.9 491.1,739.3 491.7,733.1 492.4,739.2 493.0,734.4 493.7,736.8 494.3,739.9 495.0,737.4 495.6,734.4 496.2,735.5 496.9,738.4 497.5,738.0 498.2,738.3 498.8,740.9 499.5,737.1 500.1,736.9 500.8,739.7 501.4,733.6 502.0,738.3 502.7,736.7 503.3,734.4 504.0,734.5 504.6,731.3 505.3,733.5 505.9,730.9 506.6,730.3 507.2,730.9 507.8,731.9 508.5,735.8 509.1,730.1 509.8,733.4 510.4,729.3 511.1,733.5 511.7,732.6 512.4,729.9 513.0,732.7 513.6,735.9 514.3,739.1 514.9,732.5 515.6,732.7 516.2,729.9 516.9,730.2 517.5,733.2 518.2,733.5 518.8,739.0 519.4,732.6 520.1,732.1 520.7,730.3 521.4,731.2 522.0,727.4 522.7,729.5 523.3,730.8 524.0,734.1 524.6,731.9 525.2,734.1 525.9,735.9 526.5,729.9 527.2,736.9 527.8,735.9 528.5,735.1 529.1,733.6 529.8,733.8 530.4,732.3 531.0,729.6 531.7,733.2 532.3,744.0 533.0,744.6 533.6,737.9 534.3,732.0 534.9,729.3 535.6,731.5 536.2,731.1 536.8,735.2 537.5,727.2 538.1,729.1 538.8,733.5 539.4,731.7 540.1,728.4 540.7,730.9 541.4,728.2 542.0,731.4 542.6,732.5 543.3,732.7 543.9,728.4 544.6,740.6 545.2,736.9 545.9,731.3 546.5,742.7 547.2,739.6 547.8,744.0 548.4,740.7 549.1,735.2 549.7,734.8 550.4,738.5 551.0,736.9 551.7,735.3 552.3,736.1 553.0,728.4 553.6,733.3 554.2,744.6 554.9,734.7 555.5,740.9 556.2,741.3 556.8,740.6 557.5,735.4 558.1,732.0 558.8,726.4 559.4,729.8 560.0,731.7 560.7,733.2 561.3,726.9 562.0,736.3 562.6,733.5 563.3,727.7 563.9,728.9 564.6,730.6 565.2,735.2 565.8,733.2 566.5,729.7 567.1,727.9 567.8,735.1 568.4,731.7 569.1,733.0 569.7,740.4 570.4,729.1 571.0,733.5 571.6,733.8 572.3,739.2 572.9,735.4 573.6,730.1 574.2,735.9 574.9,732.6 575.5,733.6 576.2,733.0 576.8,734.8 577.5,731.6 578.1,734.1 578.7,737.7 579.4,735.2 580.0,727.9 580.7,735.8 581.3,740.7 582.0,734.4 582.6,730.4 583.3,738.4 583.9,740.0 584.5,742.2 585.2,738.0 585.8,737.8 586.5,733.1 587.1,737.6 587.8,734.9 588.4,729.9 589.1,737.5 589.7,737.2 590.3,735.6 591.0,738.9 591.6,738.1 592.3,737.9 592.9,737.9 593.6,739.6 594.2,733.5 594.9,735.4 595.5,737.0 596.1,730.4 596.8,734.3 597.4,733.8 598.1,733.1 598.7,741.7 599.4,729.9 600.0,733.1 600.7,728.8 601.3,729.1 601.9,735.1 602.6,726.3 603.2,731.4 603.9,727.0 604.5,726.3 605.2,730.6 605.8,732.7 606.5,730.3 607.1,732.7 607.7,739.1 608.4,729.5 609.0,728.0 609.7,735.1 610.3,736.5 611.0,736.7 611.6,740.2 612.3,735.7 612.9,737.1 613.5,732.8 614.2,730.9 614.8,737.1 615.5,734.8 616.1,733.3 616.8,738.2 617.4,734.4 618.1,737.9 618.7,730.6 619.3,731.3 620.0,739.0 620.6,729.9 621.3,738.0 621.9,737.6 622.6,734.8 623.2,734.5 623.9,732.6 624.5,730.9 625.1,732.5 625.8,728.4 626.4,731.5 627.1,727.6 627.7,723.9 628.4,723.8 629.0,727.7 629.7,728.1 630.3,727.5 630.9,725.2 631.6,723.3 632.2,727.9 632.9,729.4 633.5,729.8 634.2,729.8 634.8,730.4 635.5,733.3 636.1,729.5" fill="none" stroke="#45AC4C" stroke-width="1.3" stroke-linejoin="round"/>
<path d="M120.5,692.5h0M121.1,689.9h0M121.8,692.7h0M122.4,692.1h0M123.1,688.1h0M123.7,687.7h0M124.4,690.5h0M125.0,694.4h0M125.7,694.0h0M126.3,692.7h0M126.9,696.9h0M127.6,697.3h0M128.2,692.5h0M128.9,694.8h0M129.5,695.6h0M130.2,692.2h0M130.8,694.4h0M131.5,697.6h0M132.1,697.0h0M132.7,691.7h0M133.4,695.2h0M134.0,691.5h0M134.7,690.6h0M135.3,696.1h0M136.0,691.1h0M136.6,691.0h0M137.3,696.7h0M137.9,691.1h0M138.5,696.7h0M139.2,693.3h0M139.8,696.2h0M140.5,700.6h0M141.1,686.2h0M141.8,690.6h0M142.4,688.3h0M143.1,698.8h0M143.7,697.1h0M144.3,696.4h0M145.0,696.4h0M145.6,692.2h0M146.3,690.3h0M146.9,691.8h0M147.6,692.0h0M148.2,687.8h0M148.9,690.7h0M149.5,694.5h0M150.1,689.3h0M150.8,693.0h0M151.4,687.1h0M152.1,697.3h0M152.7,694.6h0M153.4,697.9h0M154.0,694.5h0M154.7,689.7h0M155.3,696.1h0M155.9,696.2h0M156.6,689.3h0M157.2,689.3h0M157.9,693.8h0M158.5,691.4h0M159.2,694.1h0M159.8,688.7h0M160.5,693.7h0M161.1,694.5h0M161.7,692.2h0M162.4,689.1h0M163.0,689.1h0M163.7,690.2h0M164.3,693.7h0M165.0,698.6h0M165.6,699.7h0M166.3,699.2h0M166.9,692.3h0M167.5,692.8h0M168.2,698.2h0M168.8,700.4h0M169.5,698.9h0M170.1,695.7h0M170.8,692.3h0M171.4,698.0h0M172.1,700.1h0M172.7,703.7h0M173.3,701.3h0M174.0,701.4h0M174.6,696.7h0M175.3,703.5h0M175.9,705.7h0M176.6,709.3h0M177.2,709.5h0M177.9,709.5h0M178.5,707.0h0M179.1,703.8h0M179.8,704.3h0M180.4,702.4h0M181.1,704.2h0M181.7,707.7h0M182.4,710.9h0M183.0,714.0h0M183.7,704.0h0M184.3,657.0h0M184.9,563.3h0M185.6,541.4h0M186.2,546.1h0M186.9,550.5h0M187.5,550.9h0M188.2,543.5h0M188.8,539.6h0M189.5,541.7h0M190.1,539.4h0M190.8,544.9h0M191.4,543.0h0M192.0,537.1h0M192.7,548.8h0M193.3,534.3h0M194.0,537.1h0M194.6,532.5h0M195.3,541.7h0M195.9,532.8h0M196.6,540.7h0M197.2,536.6h0M197.8,535.8h0M198.5,543.7h0M199.1,551.4h0M199.8,548.8h0M200.4,547.9h0M201.1,553.8h0M201.7,558.4h0M202.4,554.4h0M203.0,558.3h0M203.6,564.0h0M204.3,558.2h0M204.9,558.6h0M205.6,561.9h0M206.2,559.8h0M206.9,559.4h0M207.5,559.8h0M208.2,565.9h0M208.8,560.7h0M209.4,565.2h0M210.1,569.1h0M210.7,569.0h0M211.4,565.9h0M212.0,563.4h0M212.7,564.1h0M213.3,571.4h0M214.0,569.3h0M214.6,565.0h0M215.2,568.7h0M215.9,572.1h0M216.5,573.8h0M217.2,571.4h0M217.8,574.2h0M218.5,571.3h0M219.1,577.7h0M219.8,573.2h0M220.4,572.7h0M221.0,565.2h0M221.7,568.3h0M222.3,573.2h0M223.0,569.4h0M223.6,570.5h0M224.3,578.0h0M224.9,580.1h0M225.6,570.9h0M226.2,575.9h0M226.8,576.1h0M227.5,572.9h0M228.1,575.2h0M228.8,573.6h0M229.4,576.8h0M230.1,575.4h0M230.7,576.7h0M231.4,567.9h0M232.0,569.8h0M232.6,575.3h0M233.3,573.6h0M233.9,573.2h0M234.6,577.7h0M235.2,575.0h0M235.9,576.7h0M236.5,570.5h0M237.2,577.8h0M237.8,576.2h0M238.4,576.0h0M239.1,576.6h0M239.7,656.0h0M240.4,736.2h0M241.0,727.0h0M241.7,733.4h0M242.3,728.5h0M243.0,723.6h0M243.6,725.6h0M244.2,731.0h0M244.9,731.6h0M245.5,727.3h0M246.2,730.7h0M246.8,724.9h0M247.5,727.2h0M248.1,736.0h0M248.8,734.9h0M249.4,726.2h0M250.0,734.0h0M250.7,730.1h0M251.3,730.2h0M252.0,732.3h0M252.6,731.4h0M253.3,726.1h0M253.9,729.5h0M254.6,729.0h0M255.2,729.1h0M255.8,725.2h0M256.5,730.0h0M257.1,732.0h0M257.8,729.7h0M258.4,733.5h0M259.1,736.1h0M259.7,730.2h0M260.4,728.9h0M261.0,725.5h0M261.6,732.8h0M262.3,735.3h0M262.9,738.4h0M263.6,731.7h0M264.2,736.0h0M264.9,732.2h0M265.5,731.3h0M266.2,730.0h0M266.8,731.6h0M267.4,731.4h0M268.1,735.1h0M268.7,728.8h0M269.4,731.9h0M270.0,729.2h0M270.7,729.6h0M271.3,724.7h0M272.0,729.6h0M272.6,728.2h0M273.2,734.3h0M273.9,726.8h0M274.5,731.9h0M275.2,730.3h0M275.8,730.6h0M276.5,729.9h0M277.1,728.2h0M277.8,730.9h0M278.4,728.3h0M279.0,725.9h0M279.7,729.3h0M280.3,723.7h0M281.0,724.3h0M281.6,730.9h0M282.3,732.1h0M282.9,730.9h0M283.6,728.5h0M284.2,723.5h0M284.8,731.7h0M285.5,732.9h0M286.1,730.3h0M286.8,728.4h0M287.4,729.3h0M288.1,730.5h0M288.7,728.0h0M289.4,730.2h0M290.0,726.9h0M290.6,729.3h0M291.3,718.9h0M291.9,729.5h0M292.6,729.1h0M293.2,728.5h0M293.9,731.3h0M294.5,730.5h0M295.2,726.2h0M295.8,727.6h0M296.4,726.8h0M297.1,720.4h0M297.7,723.8h0M298.4,728.9h0M299.0,726.2h0M299.7,725.7h0M300.3,727.8h0M301.0,729.0h0M301.6,728.9h0M302.2,726.9h0M302.9,728.2h0M303.5,726.6h0M304.2,730.6h0M304.8,730.6h0M305.5,730.4h0M306.1,727.2h0M306.8,726.6h0M307.4,726.7h0M308.0,714.5h0M308.7,596.7h0M309.3,597.8h0M310.0,592.9h0M310.6,592.9h0M311.3,601.5h0M311.9,594.8h0M312.6,591.6h0M313.2,592.4h0M313.9,593.7h0M314.5,601.2h0M315.1,599.6h0M315.8,595.1h0M316.4,601.7h0M317.1,598.8h0M317.7,594.5h0M318.4,589.4h0M319.0,592.9h0M319.7,596.2h0M320.3,597.5h0M320.9,600.1h0M321.6,598.0h0M322.2,592.4h0M322.9,591.2h0M323.5,593.9h0M324.2,596.4h0M324.8,592.6h0M325.5,590.1h0M326.1,594.7h0M326.7,596.6h0M327.4,596.3h0M328.0,604.3h0M328.7,593.6h0M329.3,591.5h0M330.0,599.6h0M330.6,598.7h0M331.3,593.8h0M331.9,585.7h0M332.5,590.5h0M333.2,593.9h0M333.8,590.2h0M334.5,595.8h0M335.1,601.9h0M335.8,601.6h0M336.4,603.8h0M337.1,600.6h0M337.7,597.8h0M338.3,598.2h0M339.0,598.1h0M339.6,591.9h0M340.3,602.0h0M340.9,598.6h0M341.6,596.0h0M342.2,599.1h0M342.9,599.0h0M343.5,593.2h0M344.1,591.4h0M344.8,596.8h0M345.4,664.1h0M346.1,722.1h0M346.7,724.4h0M347.4,729.1h0M348.0,725.0h0M348.7,728.1h0M349.3,725.9h0M349.9,725.7h0M350.6,729.9h0M351.2,731.5h0M351.9,731.3h0M352.5,731.3h0M353.2,732.7h0M353.8,733.7h0M354.5,728.4h0M355.1,731.5h0M355.7,727.0h0M356.4,725.6h0M357.0,726.1h0M357.7,728.2h0M358.3,728.0h0M359.0,734.6h0M359.6,732.0h0M360.3,731.8h0M360.9,727.8h0M361.5,734.6h0M362.2,727.0h0M362.8,727.9h0M363.5,718.6h0M364.1,704.7h0M364.8,704.3h0M365.4,706.6h0M366.1,704.9h0M366.7,708.4h0M367.3,704.6h0M368.0,702.6h0M368.6,702.8h0M369.3,706.8h0M369.9,707.8h0M370.6,704.7h0M371.2,700.4h0M371.9,708.2h0M372.5,710.2h0M373.1,703.3h0M373.8,706.2h0M374.4,709.1h0M375.1,703.5h0M375.7,712.4h0M376.4,703.4h0M377.0,713.8h0M377.7,712.3h0M378.3,713.1h0M378.9,712.0h0M379.6,713.0h0M380.2,709.3h0M380.9,713.7h0M381.5,706.5h0M382.2,706.0h0M382.8,708.7h0M383.5,710.7h0M384.1,713.8h0M384.7,712.2h0M385.4,712.7h0M386.0,712.9h0M386.7,708.8h0M387.3,713.4h0M388.0,708.2h0M388.6,708.1h0M389.3,706.8h0M389.9,709.0h0M390.5,705.8h0M391.2,706.7h0M391.8,710.6h0M392.5,709.9h0M393.1,710.2h0M393.8,714.2h0M394.4,710.0h0M395.1,712.8h0M395.7,706.4h0M396.3,709.5h0M397.0,707.1h0M397.6,706.6h0M398.3,704.7h0M398.9,709.8h0M399.6,703.1h0M400.2,705.1h0M400.9,706.7h0M401.5,706.4h0M402.1,708.0h0M402.8,706.5h0M403.4,705.2h0M404.1,709.2h0M404.7,703.2h0M405.4,705.3h0M406.0,709.7h0M406.7,703.0h0M407.3,704.6h0M407.9,707.2h0M408.6,698.6h0M409.2,709.7h0M409.9,706.1h0M410.5,707.8h0M411.2,706.9h0M411.8,706.2h0M412.5,704.8h0M413.1,712.0h0M413.7,703.4h0M414.4,704.9h0M415.0,705.0h0M415.7,703.7h0M416.3,707.8h0M417.0,708.4h0M417.6,704.0h0M418.3,706.3h0M418.9,700.9h0M419.5,705.1h0M420.2,701.3h0M420.8,704.2h0M421.5,709.1h0M422.1,699.7h0M422.8,701.4h0M423.4,707.8h0M424.1,705.0h0M424.7,708.0h0M425.3,709.7h0M426.0,710.8h0M426.6,711.1h0M427.3,707.9h0M427.9,710.0h0M428.6,711.8h0M429.2,709.6h0M429.9,714.8h0M430.5,712.7h0M431.1,714.8h0M431.8,717.2h0M432.4,717.6h0M433.1,718.7h0M433.7,713.0h0M434.4,713.1h0M435.0,714.1h0M435.7,715.9h0M436.3,717.9h0M436.9,710.9h0M437.6,717.1h0M438.2,717.8h0M438.9,713.8h0M439.5,713.4h0M440.2,716.5h0M440.8,722.0h0M441.5,716.6h0M442.1,714.5h0M442.8,717.1h0M443.4,715.4h0M444.0,711.0h0M444.7,719.7h0M445.3,714.5h0M446.0,711.9h0M446.6,723.2h0M447.3,717.0h0M447.9,712.2h0M448.6,711.4h0M449.2,717.0h0M449.8,713.4h0M450.5,715.8h0M451.1,715.5h0M451.8,713.1h0M452.4,715.0h0M453.1,719.8h0M453.7,712.3h0M454.4,719.4h0M455.0,720.6h0M455.6,715.4h0M456.3,715.5h0M456.9,719.2h0M457.6,717.2h0M458.2,716.9h0M458.9,712.9h0M459.5,718.9h0M460.2,719.1h0M460.8,712.9h0M461.4,716.9h0M462.1,712.4h0M462.7,718.3h0M463.4,715.9h0M464.0,721.2h0M464.7,716.4h0M465.3,718.4h0M466.0,712.1h0M466.6,719.9h0M467.2,717.7h0M467.9,720.1h0M468.5,718.6h0M469.2,721.3h0M469.8,719.4h0M470.5,724.9h0M471.1,720.7h0M471.8,719.7h0M472.4,721.7h0M473.0,721.5h0M473.7,720.0h0M474.3,716.7h0M475.0,721.1h0M475.6,714.5h0M476.3,719.3h0M476.9,719.6h0M477.6,715.3h0M478.2,719.2h0M478.8,715.6h0M479.5,717.1h0M480.1,724.7h0M480.8,721.6h0M481.4,720.2h0M482.1,721.2h0M482.7,722.4h0M483.4,727.4h0M484.0,728.8h0M484.6,732.7h0M485.3,734.3h0M485.9,737.5h0M486.6,733.9h0M487.2,730.6h0M487.9,736.4h0M488.5,736.5h0M489.2,736.9h0M489.8,738.4h0M490.4,737.9h0M491.1,739.3h0M491.7,733.1h0M492.4,739.2h0M493.0,734.4h0M493.7,736.8h0M494.3,739.9h0M495.0,737.4h0M495.6,734.4h0M496.2,735.5h0M496.9,738.4h0M497.5,738.0h0M498.2,738.3h0M498.8,740.9h0M499.5,737.1h0M500.1,736.9h0M500.8,739.7h0M501.4,733.6h0M502.0,738.3h0M502.7,736.7h0M503.3,734.4h0M504.0,734.5h0M504.6,731.3h0M505.3,733.5h0M505.9,730.9h0M506.6,730.3h0M507.2,730.9h0M507.8,731.9h0M508.5,735.8h0M509.1,730.1h0M509.8,733.4h0M510.4,729.3h0M511.1,733.5h0M511.7,732.6h0M512.4,729.9h0M513.0,732.7h0M513.6,735.9h0M514.3,739.1h0M514.9,732.5h0M515.6,732.7h0M516.2,729.9h0M516.9,730.2h0M517.5,733.2h0M518.2,733.5h0M518.8,739.0h0M519.4,732.6h0M520.1,732.1h0M520.7,730.3h0M521.4,731.2h0M522.0,727.4h0M522.7,729.5h0M523.3,730.8h0M524.0,734.1h0M524.6,731.9h0M525.2,734.1h0M525.9,735.9h0M526.5,729.9h0M527.2,736.9h0M527.8,735.9h0M528.5,735.1h0M529.1,733.6h0M529.8,733.8h0M530.4,732.3h0M531.0,729.6h0M531.7,733.2h0M532.3,744.0h0M533.0,744.6h0M533.6,737.9h0M534.3,732.0h0M534.9,729.3h0M535.6,731.5h0M536.2,731.1h0M536.8,735.2h0M537.5,727.2h0M538.1,729.1h0M538.8,733.5h0M539.4,731.7h0M540.1,728.4h0M540.7,730.9h0M541.4,728.2h0M542.0,731.4h0M542.6,732.5h0M543.3,732.7h0M543.9,728.4h0M544.6,740.6h0M545.2,736.9h0M545.9,731.3h0M546.5,742.7h0M547.2,739.6h0M547.8,744.0h0M548.4,740.7h0M549.1,735.2h0M549.7,734.8h0M550.4,738.5h0M551.0,736.9h0M551.7,735.3h0M552.3,736.1h0M553.0,728.4h0M553.6,733.3h0M554.2,744.6h0M554.9,734.7h0M555.5,740.9h0M556.2,741.3h0M556.8,740.6h0M557.5,735.4h0M558.1,732.0h0M558.8,726.4h0M559.4,729.8h0M560.0,731.7h0M560.7,733.2h0M561.3,726.9h0M562.0,736.3h0M562.6,733.5h0M563.3,727.7h0M563.9,728.9h0M564.6,730.6h0M565.2,735.2h0M565.8,733.2h0M566.5,729.7h0M567.1,727.9h0M567.8,735.1h0M568.4,731.7h0M569.1,733.0h0M569.7,740.4h0M570.4,729.1h0M571.0,733.5h0M571.6,733.8h0M572.3,739.2h0M572.9,735.4h0M573.6,730.1h0M574.2,735.9h0M574.9,732.6h0M575.5,733.6h0M576.2,733.0h0M576.8,734.8h0M577.5,731.6h0M578.1,734.1h0M578.7,737.7h0M579.4,735.2h0M580.0,727.9h0M580.7,735.8h0M581.3,740.7h0M582.0,734.4h0M582.6,730.4h0M583.3,738.4h0M583.9,740.0h0M584.5,742.2h0M585.2,738.0h0M585.8,737.8h0M586.5,733.1h0M587.1,737.6h0M587.8,734.9h0M588.4,729.9h0M589.1,737.5h0M589.7,737.2h0M590.3,735.6h0M591.0,738.9h0M591.6,738.1h0M592.3,737.9h0M592.9,737.9h0M593.6,739.6h0M594.2,733.5h0M594.9,735.4h0M595.5,737.0h0M596.1,730.4h0M596.8,734.3h0M597.4,733.8h0M598.1,733.1h0M598.7,741.7h0M599.4,729.9h0M600.0,733.1h0M600.7,728.8h0M601.3,729.1h0M601.9,735.1h0M602.6,726.3h0M603.2,731.4h0M603.9,727.0h0M604.5,726.3h0M605.2,730.6h0M605.8,732.7h0M606.5,730.3h0M607.1,732.7h0M607.7,739.1h0M608.4,729.5h0M609.0,728.0h0M609.7,735.1h0M610.3,736.5h0M611.0,736.7h0M611.6,740.2h0M612.3,735.7h0M612.9,737.1h0M613.5,732.8h0M614.2,730.9h0M614.8,737.1h0M615.5,734.8h0M616.1,733.3h0M616.8,738.2h0M617.4,734.4h0M618.1,737.9h0M618.7,730.6h0M619.3,731.3h0M620.0,739.0h0M620.6,729.9h0M621.3,738.0h0M621.9,737.6h0M622.6,734.8h0M623.2,734.5h0M623.9,732.6h0M624.5,730.9h0M625.1,732.5h0M625.8,728.4h0M626.4,731.5h0M627.1,727.6h0M627.7,723.9h0M628.4,723.8h0M629.0,727.7h0M629.7,728.1h0M630.3,727.5h0M630.9,725.2h0M631.6,723.3h0M632.2,727.9h0M632.9,729.4h0M633.5,729.8h0M634.2,729.8h0M634.8,730.4h0M635.5,733.3h0M636.1,729.5h0" stroke="#45AC4C" stroke-width="4.8" stroke-linecap="round" fill="none"/>
<use href="#d1" x="120.6" y="692.0"/>
<use href="#d2" x="133.7" y="694.5"/>
<use href="#d1" x="146.4" y="691.1"/>
<use href="#d2" x="160.0" y="690.3"/>
<use href="#d1" x="172.2" y="698.5"/>
<use href="#bd" x="184.6" y="660.3"/>
<use href="#bt" x="185.3" y="565.1"/>
<use href="#bt" x="186.6" y="539.5"/>
<use href="#bt" x="198.0" y="548.7"/>
<use href="#bt" x="211.7" y="565.6"/>
<use href="#bt" x="223.8" y="574.0"/>
<use href="#bt" x="237.5" y="571.8"/>
<use href="#bd" x="240.0" y="651.8"/>
<use href="#n1" x="249.7" y="730.0"/>
<use href="#n2" x="275.1" y="731.3"/>
<use href="#n3" x="301.0" y="726.8"/>
<use href="#bt" x="322.3" y="604.8"/>
<use href="#bt" x="309.4" y="598.1"/>
<use href="#bt" x="327.0" y="596.9"/>
<use href="#bt" x="340.4" y="602.3"/>
<use href="#bd" x="345.9" y="666.5"/>
<use href="#n1" x="352.8" y="729.5"/>
<use href="#n2" x="378.4" y="708.0"/>
<use href="#n3" x="404.4" y="711.1"/>
<use href="#n1" x="430.2" y="717.6"/>
<use href="#n2" x="456.0" y="717.6"/>
<use href="#n3" x="481.8" y="729.5"/>
<use href="#n1" x="507.1" y="741.2"/>
<use href="#n2" x="533.1" y="731.4"/>
<use href="#n3" x="558.9" y="737.8"/>
<use href="#n1" x="584.7" y="734.1"/>
<use href="#n2" x="610.3" y="733.4"/>
<use href="#n3" x="636.1" y="728.9"/>
<rect x="95.2" y="515.0" width="567.6999999999999" height="236.5" fill="none" stroke="#3c3c3c" stroke-width="1.1"/>
<path d="M120.50,751.5v4M184.95,751.5v4M249.40,751.5v4M313.85,751.5v4M378.30,751.5v4M442.75,751.5v4M507.20,751.5v4M571.65,751.5v4M636.10,751.5v4M95.2,741.30h-4M95.2,710.87h-4M95.2,680.44h-4M95.2,650.02h-4M95.2,619.59h-4M95.2,589.16h-4M95.2,558.73h-4M95.2,528.31h-4" stroke="#3c3c3c" stroke-width="1" fill="none"/>
<text class="dj" x="115.8" y="767.7" font-size="13.9" textLength="9.5" lengthAdjust="spacingAndGlyphs">0</text>
<text class="dj" x="170.7" y="767.7" font-size="13.9" textLength="28.5" lengthAdjust="spacingAndGlyphs">100</text>
<text class="dj" x="235.2" y="767.7" font-size="13.9" textLength="28.5" lengthAdjust="spacingAndGlyphs">200</text>
<text class="dj" x="299.6" y="767.7" font-size="13.9" textLength="28.5" lengthAdjust="spacingAndGlyphs">300</text>
<text class="dj" x="364.1" y="767.7" font-size="13.9" textLength="28.5" lengthAdjust="spacingAndGlyphs">400</text>
<text class="dj" x="428.5" y="767.7" font-size="13.9" textLength="28.5" lengthAdjust="spacingAndGlyphs">500</text>
<text class="dj" x="492.9" y="767.7" font-size="13.9" textLength="28.5" lengthAdjust="spacingAndGlyphs">600</text>
<text class="dj" x="557.4" y="767.7" font-size="13.9" textLength="28.5" lengthAdjust="spacingAndGlyphs">700</text>
<text class="dj" x="621.9" y="767.7" font-size="13.9" textLength="28.5" lengthAdjust="spacingAndGlyphs">800</text>
<text class="dj" x="79.6" y="746.5" font-size="13.9" textLength="9.5" lengthAdjust="spacingAndGlyphs">0</text>
<text class="dj" x="51.3" y="716.1" font-size="13.9" textLength="37.8" lengthAdjust="spacingAndGlyphs">2500</text>
<text class="dj" x="51.3" y="685.6" font-size="13.9" textLength="37.8" lengthAdjust="spacingAndGlyphs">5000</text>
<text class="dj" x="51.3" y="655.2" font-size="13.9" textLength="37.8" lengthAdjust="spacingAndGlyphs">7500</text>
<text class="dj" x="41.8" y="624.8" font-size="13.9" textLength="47.3" lengthAdjust="spacingAndGlyphs">10000</text>
<text class="dj" x="41.8" y="594.4" font-size="13.9" textLength="47.3" lengthAdjust="spacingAndGlyphs">12500</text>
<text class="dj" x="41.8" y="563.9" font-size="13.9" textLength="47.3" lengthAdjust="spacingAndGlyphs">15000</text>
<text class="dj" x="41.8" y="533.5" font-size="13.9" textLength="47.3" lengthAdjust="spacingAndGlyphs">17500</text>
<text class="dj" x="66.7" y="512.4" font-size="13.9" textLength="60.6" lengthAdjust="spacingAndGlyphs">+18117</text>
<text class="dj" x="620.1" y="784.6" font-size="13.9" textLength="42.2" lengthAdjust="spacingAndGlyphs">+271</text>
<text class="dj" x="276.8" y="785.2" font-size="14.6" textLength="205.2" lengthAdjust="spacingAndGlyphs">Frame Index (× 100 ms)</text>
<text class="dj" transform="translate(34,688.5) rotate(-90)" font-size="15.8" textLength="110" lengthAdjust="spacingAndGlyphs">Total Intensity</text>
<text class="dj" x="189.1" y="509.9" font-size="16" textLength="378.6" lengthAdjust="spacingAndGlyphs">Domain 2 (10nt-10nt): Intensity vs Frame</text>
<rect x="533.4" y="522.3" width="121.1" height="25" rx="2.6" fill="#fff" fill-opacity="0.8" stroke="#d0d0d0" stroke-width="1"/>
<line x1="539.1" y1="534.0" x2="570.1" y2="534.0" stroke="#45AC4C" stroke-width="1.3"/><circle cx="554.6" cy="534.0" r="2.3" fill="#45AC4C"/>
<text class="dj" x="582.5" y="539.3" font-size="15.2" textLength="65.3" lengthAdjust="spacingAndGlyphs">Intensity</text>
<rect x="273.6" y="523.2" width="107.3" height="46" fill="none" stroke="#1B2A55" stroke-width="1.8"/>
<text class="lb" x="279.3" y="541.9" font-size="15.9" textLength="96.6" lengthAdjust="spacingAndGlyphs">Image-based</text>
<text class="lb" x="295.8" y="560.8" font-size="15.9" textLength="63.2" lengthAdjust="spacingAndGlyphs">methods</text>
<path d="M184.80,689.30L189.80,692.30L189.80,686.30Z" fill="#000"/><line x1="188.80" y1="689.30" x2="235.70" y2="689.30" stroke="#000" stroke-width="1.9"/><path d="M240.20,689.30L235.20,692.30L235.20,686.30Z" fill="#000"/>
<path d="M309.40,689.80L314.40,692.80L314.40,686.80Z" fill="#000"/><line x1="313.40" y1="689.80" x2="341.40" y2="689.80" stroke="#000" stroke-width="1.9"/><path d="M345.90,689.80L340.90,692.80L340.90,686.80Z" fill="#000"/>
<text><tspan class="dj" x="191.4" y="685.8" font-size="15.5" style="fill:#000" textLength="14.6" lengthAdjust="spacingAndGlyphs">∼</tspan><tspan class="lb" x="205.8" y="685.2" font-size="12.2" textLength="17.8" lengthAdjust="spacingAndGlyphs">8 s</tspan></text>
<text><tspan class="dj" x="308.6" y="685.4" font-size="15.5" style="fill:#000" textLength="14.6" lengthAdjust="spacingAndGlyphs">∼</tspan><tspan class="lb" x="323" y="684.8" font-size="12.2" textLength="17.8" lengthAdjust="spacingAndGlyphs">6 s</tspan></text>
<path d="M381.8,546.2H411" stroke="#000" stroke-width="2.0" stroke-dasharray="5.6 1.9" fill="none"/>
<path d="M416.00,546.20L409.40,549.90L411.38,546.20L409.40,542.50Z" fill="#000"/>
<path d="M308.8,592.8L320.5,575.5" stroke="#000" stroke-width="2.0" stroke-dasharray="4.4 1.8" fill="none"/>
<path d="M323.80,570.50L322.62,581.76L320.90,574.81L313.82,575.84Z" fill="#000"/>
<path d="M323.8,593.6L323.8,576.5" stroke="#000" stroke-width="2.0" stroke-dasharray="4.4 1.8" fill="none"/>
<path d="M323.80,570.50L329.10,580.50L323.80,575.70L318.50,580.50Z" fill="#000"/>
<path d="M337.3,595L326.7,575.8" stroke="#000" stroke-width="2.0" stroke-dasharray="4.4 1.8" fill="none"/>
<path d="M323.80,570.50L333.27,576.70L326.31,575.05L323.98,581.82Z" fill="#000"/>
<text class="lb" x="426.3" y="543.8" font-size="15" textLength="56.3" lengthAdjust="spacingAndGlyphs">Domain</text>
<text class="lb" font-size="15"><tspan x="426.5" y="563.3" textLength="38.4" lengthAdjust="spacingAndGlyphs">1 or 2</tspan> <tspan x="472.3" y="563.3" textLength="11.6" lengthAdjust="spacingAndGlyphs">···</tspan></text>
</svg></body></html>
